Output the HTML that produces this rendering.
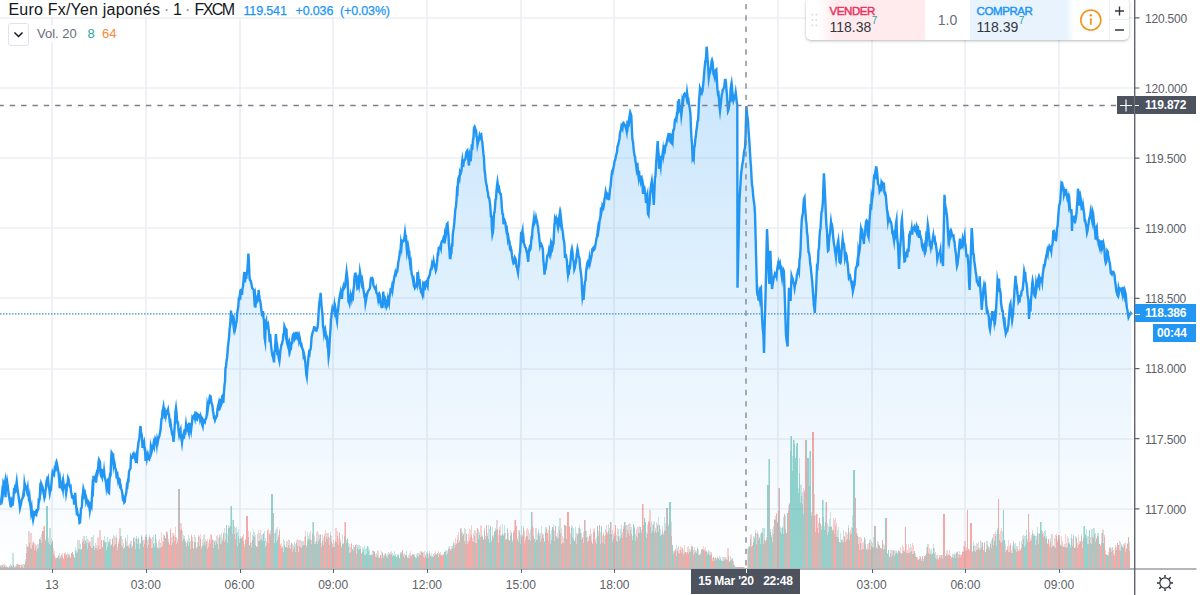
<!DOCTYPE html>
<html><head><meta charset="utf-8"><title>EURJPY</title>
<style>
html,body{margin:0;padding:0;background:#fff;}
body{width:1200px;height:595px;position:relative;overflow:hidden;font-family:"Liberation Sans",sans-serif;}
.pl{position:absolute;left:1145px;width:50px;height:16px;line-height:16px;font-size:12px;color:#5d6067;letter-spacing:-0.2px;}
.tl{position:absolute;top:577px;width:60px;text-align:center;height:16px;line-height:16px;font-size:12px;color:#5d6067;}
.leg1{position:absolute;left:8.5px;top:0px;height:20px;line-height:20px;font-size:16px;color:#131722;white-space:nowrap;letter-spacing:0.2px;}
.lg{position:absolute;top:0px;height:20px;line-height:20px;white-space:nowrap;}
.leg1 .dot{color:#8a8e99;padding:0 5px;}
.leg1 .v{font-size:12.5px;color:#2196f3;margin-left:9px;}
.leg2{position:absolute;left:37px;top:25px;height:18px;line-height:18px;font-size:13px;color:#6a6d78;white-space:nowrap;}
.btn{position:absolute;left:8px;top:23px;width:19px;height:21px;border:1px solid #e0e3eb;border-radius:3px;background:#fff;box-sizing:content-box;}
.xl{position:absolute;background:#4c525e;color:#fff;font-weight:bold;font-size:12px;letter-spacing:-0.2px;}
.panel{position:absolute;left:806px;top:-2px;width:323px;height:42px;background:#fff;border-radius:5px;box-shadow:0 1px 3px rgba(0,0,0,0.28);overflow:hidden;}
</style></head><body>
<svg width="1200" height="595" viewBox="0 0 1200 595" style="position:absolute;left:0;top:0">
<defs><linearGradient id="ag" x1="0" y1="40" x2="0" y2="568" gradientUnits="userSpaceOnUse"><stop offset="0" stop-color="#2196f3" stop-opacity="0.26"/><stop offset="1" stop-color="#2196f3" stop-opacity="0.0"/></linearGradient></defs>
<path d="M52,0V568M146,0V568M240,0V568M333,0V568M427,0V568M521,0V568M614,0V568M778,0V568M872,0V568M965,0V568M1059,0V568M0,18H1134M0,88H1134M0,158H1134M0,228H1134M0,298H1134M0,369H1134M0,439H1134M0,509H1134" stroke="#edeff3" stroke-width="1.7" fill="none"/>
<path d="M0.0,505.0 L0.5,504.0 L1.0,500.9 L1.5,498.6 L2.0,493.8 L2.5,497.2 L3.0,493.7 L3.5,482.5 L4.0,483.6 L4.5,485.6 L5.0,482.7 L5.5,497.1 L6.0,485.4 L6.5,484.1 L7.0,481.0 L7.5,484.3 L8.0,488.0 L8.5,493.3 L9.0,496.2 L9.5,499.3 L10.0,502.5 L10.5,501.2 L11.0,507.4 L11.5,501.1 L12.0,506.0 L12.5,500.9 L13.0,501.9 L13.6,495.8 L14.1,487.9 L14.6,493.6 L15.1,488.1 L15.7,489.3 L16.2,485.4 L16.7,481.7 L17.2,486.6 L17.8,490.8 L18.4,494.9 L18.9,499.0 L19.4,502.7 L20.0,508.0 L20.5,505.7 L21.0,504.2 L21.5,500.8 L22.0,498.9 L22.5,498.5 L23.0,496.1 L23.5,492.9 L24.0,493.7 L24.5,484.0 L25.0,487.2 L25.5,486.0 L26.0,487.6 L26.5,488.9 L27.0,491.2 L27.6,488.1 L28.1,496.0 L28.6,491.9 L29.1,501.5 L29.6,498.0 L30.1,504.0 L30.6,506.0 L31.1,511.5 L31.6,508.5 L32.1,514.6 L32.6,516.4 L33.1,519.7 L33.6,517.0 L34.1,512.7 L34.6,513.2 L35.1,512.4 L35.7,514.6 L36.2,515.0 L36.7,510.9 L37.2,511.3 L37.7,510.0 L38.2,509.3 L38.7,500.4 L39.2,500.9 L39.7,498.8 L40.2,488.3 L40.7,489.8 L41.2,483.7 L41.7,485.0 L42.2,489.0 L42.8,488.3 L43.3,491.8 L43.9,494.9 L44.4,498.0 L44.9,496.2 L45.4,490.6 L46.0,488.1 L46.5,481.1 L47.0,479.5 L47.6,481.6 L48.1,479.6 L48.7,486.3 L49.2,488.0 L49.8,493.0 L50.3,490.3 L50.9,490.1 L51.4,484.5 L52.0,476.7 L52.5,473.0 L53.0,474.6 L53.5,474.1 L54.0,474.8 L54.5,470.0 L55.0,465.6 L55.5,471.5 L56.0,463.0 L56.5,461.7 L57.1,463.9 L57.6,467.6 L58.1,469.9 L58.7,474.9 L59.2,479.5 L59.7,488.3 L60.3,482.0 L60.8,486.6 L61.4,486.7 L61.9,488.0 L62.4,484.3 L63.0,488.7 L63.5,482.9 L64.1,487.3 L64.6,487.6 L65.1,486.7 L65.6,488.7 L66.1,493.4 L66.6,490.1 L67.1,483.6 L67.6,483.1 L68.1,478.2 L68.6,479.5 L69.1,483.8 L69.6,486.0 L70.1,486.9 L70.6,486.4 L71.1,492.4 L71.6,494.0 L72.1,497.5 L72.6,498.0 L73.1,497.6 L73.6,496.9 L74.1,503.6 L74.7,503.6 L75.2,492.9 L75.7,501.3 L76.2,506.6 L76.7,512.0 L77.2,511.1 L77.8,515.1 L78.3,515.7 L78.9,515.4 L79.5,522.9 L80.0,522.6 L80.5,516.3 L81.0,508.7 L81.5,507.9 L81.9,506.6 L82.4,496.5 L82.9,494.0 L83.4,489.0 L83.9,491.0 L84.4,495.2 L85.0,493.6 L85.5,497.2 L86.0,501.0 L86.5,498.7 L87.0,500.7 L87.5,501.6 L88.0,503.9 L88.5,502.8 L89.0,505.6 L89.5,501.8 L90.0,509.0 L90.5,505.6 L91.0,504.2 L91.5,505.7 L92.0,496.2 L92.5,487.1 L93.0,489.2 L93.5,475.8 L94.0,479.5 L94.5,479.6 L95.0,478.7 L95.5,477.0 L96.0,482.6 L96.5,477.8 L97.0,472.7 L97.5,473.5 L98.0,471.0 L98.5,462.7 L99.0,459.7 L99.5,460.7 L100.0,461.9 L100.5,473.4 L101.0,475.4 L101.5,474.8 L102.1,476.8 L102.6,470.2 L103.1,470.5 L103.6,477.0 L104.1,471.7 L104.7,477.3 L105.2,479.1 L105.8,481.7 L106.3,486.2 L106.8,481.8 L107.4,480.8 L107.9,486.9 L108.5,492.5 L109.0,493.0 L109.5,481.1 L110.0,474.3 L110.6,474.6 L111.1,459.6 L111.6,452.6 L112.1,453.4 L112.6,457.5 L113.1,453.3 L113.7,464.4 L114.2,461.6 L114.7,463.9 L115.2,467.9 L115.7,469.0 L116.2,472.3 L116.7,478.5 L117.2,471.6 L117.7,478.1 L118.2,481.4 L118.7,479.5 L119.2,478.9 L119.7,479.5 L120.2,486.2 L120.7,485.7 L121.2,488.9 L121.7,490.1 L122.3,493.5 L122.8,498.2 L123.3,497.3 L123.8,499.1 L124.3,502.4 L124.8,501.8 L125.3,496.4 L125.9,494.6 L126.4,491.8 L126.9,485.4 L127.4,486.1 L128.0,480.2 L128.5,480.5 L129.0,471.5 L129.5,470.4 L130.0,468.8 L130.5,468.3 L131.0,457.4 L131.5,458.5 L132.0,457.9 L132.5,457.9 L133.0,455.0 L133.5,455.6 L134.0,453.9 L134.5,455.1 L135.0,457.6 L135.5,456.2 L136.0,463.0 L136.5,457.7 L137.0,459.0 L137.5,450.1 L138.0,446.8 L138.5,441.9 L139.0,440.7 L139.5,437.2 L140.0,430.0 L140.5,426.0 L141.0,432.7 L141.5,433.5 L142.0,437.9 L142.5,447.9 L143.0,443.6 L143.5,443.4 L144.0,442.0 L144.5,448.8 L145.1,450.8 L145.6,461.0 L146.1,455.2 L146.7,458.6 L147.2,454.9 L147.7,453.5 L148.2,455.7 L148.8,458.9 L149.3,459.4 L149.8,457.3 L150.4,456.5 L150.9,445.9 L151.5,448.0 L152.0,450.5 L152.5,448.7 L153.1,446.8 L153.6,443.5 L154.2,446.2 L154.7,442.0 L155.2,439.2 L155.8,440.9 L156.3,440.3 L156.8,444.3 L157.3,439.2 L157.9,441.4 L158.4,438.6 L158.9,437.6 L159.5,435.5 L160.0,432.5 L160.5,430.5 L161.0,424.3 L161.5,418.8 L162.0,418.0 L162.5,410.7 L163.0,409.7 L163.5,406.9 L164.0,411.0 L164.5,407.5 L165.0,418.6 L165.5,409.8 L166.0,415.1 L166.5,412.7 L167.0,412.2 L167.5,411.0 L168.0,409.6 L168.5,414.0 L169.0,414.3 L169.5,419.9 L170.0,423.6 L170.5,422.5 L171.0,426.8 L171.5,430.3 L172.0,433.5 L172.5,433.1 L173.0,436.7 L173.5,442.0 L174.0,436.9 L174.5,428.6 L175.0,421.0 L175.5,411.5 L176.0,408.0 L176.5,412.3 L177.0,419.9 L177.5,423.0 L178.0,422.9 L178.5,430.2 L179.0,433.8 L179.5,430.6 L180.0,431.1 L180.5,429.7 L181.0,438.1 L181.5,438.8 L182.0,442.6 L182.6,437.4 L183.1,435.6 L183.6,438.0 L184.1,437.6 L184.6,429.1 L185.1,434.8 L185.6,429.8 L186.1,424.5 L186.7,428.4 L187.2,426.7 L187.8,425.7 L188.3,430.7 L188.8,432.7 L189.4,424.0 L189.9,424.2 L190.5,428.6 L191.0,431.0 L191.5,426.1 L191.9,423.9 L192.4,417.7 L192.9,418.5 L193.4,418.3 L193.9,416.0 L194.4,416.4 L194.9,418.3 L195.4,412.7 L196.0,412.8 L196.5,419.2 L197.0,419.6 L197.5,416.6 L198.0,414.4 L198.5,414.7 L199.0,415.0 L199.5,416.0 L200.0,419.0 L200.6,416.1 L201.1,417.8 L201.6,418.5 L202.1,424.2 L202.7,426.1 L203.2,420.5 L203.7,421.7 L204.2,421.7 L204.8,422.4 L205.3,419.5 L205.8,419.0 L206.3,418.0 L206.9,413.6 L207.4,405.7 L207.9,408.5 L208.4,404.7 L208.9,403.2 L209.5,398.6 L210.0,396.0 L210.5,396.3 L211.0,399.0 L211.5,403.3 L212.0,404.2 L212.5,406.3 L213.0,411.2 L213.5,413.5 L214.0,417.8 L214.5,417.8 L215.0,420.0 L215.5,418.4 L216.0,418.0 L216.5,415.9 L217.0,415.8 L217.5,409.0 L218.1,406.3 L218.6,404.1 L219.1,410.5 L219.6,406.0 L220.1,403.8 L220.6,398.8 L221.1,404.8 L221.7,403.2 L222.2,396.1 L222.8,395.3 L223.3,403.0 L223.9,393.3 L224.5,385.0 L225.0,381.7 L225.5,367.5 L226.0,367.2 L226.5,361.2 L227.0,358.0 L227.5,353.5 L228.0,346.1 L228.6,341.0 L229.1,337.0 L229.6,329.0 L230.1,325.7 L230.5,319.3 L231.0,310.5 L231.5,317.9 L232.0,315.1 L232.6,316.8 L233.1,322.0 L233.6,326.0 L234.1,322.0 L234.6,326.5 L235.0,329.5 L235.5,327.4 L236.1,323.1 L236.6,321.7 L237.1,313.7 L237.7,310.0 L238.3,306.1 L238.8,298.7 L239.4,298.9 L240.0,294.0 L240.5,295.3 L241.0,290.1 L241.5,290.0 L242.0,295.0 L242.5,288.4 L243.0,286.2 L243.4,282.0 L243.9,275.4 L244.4,272.0 L244.9,282.3 L245.4,277.4 L245.8,277.7 L246.3,277.7 L246.8,273.3 L247.4,269.4 L247.9,262.0 L248.4,253.5 L248.9,260.8 L249.5,277.3 L250.0,280.0 L250.5,280.3 L251.1,282.4 L251.6,284.7 L252.2,287.8 L252.7,288.8 L253.3,289.3 L253.8,290.0 L254.3,298.8 L254.9,296.0 L255.4,307.7 L256.0,299.1 L256.5,298.0 L257.0,301.8 L257.6,300.8 L258.1,298.8 L258.6,290.0 L259.1,294.7 L259.6,298.2 L260.0,300.6 L260.5,302.8 L261.0,307.0 L261.5,311.1 L262.0,315.1 L262.5,315.8 L263.0,311.2 L263.5,317.7 L264.0,320.7 L264.6,338.0 L265.1,340.9 L265.7,322.3 L266.2,320.7 L266.7,328.7 L267.2,322.1 L267.6,325.6 L268.1,324.5 L268.6,328.8 L269.1,333.7 L269.7,342.2 L270.2,334.2 L270.8,341.9 L271.3,347.6 L271.8,351.7 L272.4,355.2 L272.9,356.9 L273.5,359.0 L274.0,362.4 L274.5,351.3 L274.9,351.0 L275.4,342.6 L275.9,334.0 L276.4,341.5 L276.9,343.6 L277.4,355.1 L277.9,351.3 L278.4,355.4 L278.9,358.8 L279.4,361.0 L279.9,356.6 L280.4,350.3 L280.9,347.9 L281.4,344.7 L281.9,344.2 L282.4,341.7 L282.9,339.7 L283.4,334.0 L283.9,333.5 L284.4,326.3 L285.0,328.0 L285.5,332.3 L286.0,329.0 L286.5,329.6 L287.0,342.7 L287.5,344.4 L288.0,346.2 L288.5,344.1 L289.0,348.5 L289.5,345.2 L290.0,350.0 L290.5,347.3 L291.0,347.8 L291.5,343.0 L292.1,343.0 L292.6,336.8 L293.1,334.8 L293.6,334.0 L294.2,335.0 L294.7,339.2 L295.2,338.2 L295.8,331.8 L296.3,337.1 L296.9,338.0 L297.4,335.4 L297.9,334.0 L298.4,335.2 L298.9,339.3 L299.4,336.4 L299.9,338.6 L300.4,342.9 L300.9,345.0 L301.4,344.4 L302.0,347.1 L302.5,349.1 L303.1,350.2 L303.6,355.7 L304.1,354.5 L304.7,357.5 L305.2,361.3 L305.8,367.9 L306.3,374.5 L306.8,376.9 L307.4,367.5 L307.9,364.4 L308.5,356.4 L309.0,353.0 L309.5,354.0 L310.0,350.1 L310.6,349.3 L311.1,344.4 L311.6,337.0 L312.1,334.9 L312.6,332.3 L313.0,331.5 L313.5,330.2 L314.0,327.4 L314.5,327.5 L315.0,327.7 L315.5,329.9 L316.0,330.4 L316.5,330.6 L317.0,328.8 L317.5,327.9 L318.1,321.4 L318.6,312.8 L319.2,304.1 L319.7,300.5 L320.1,301.2 L320.6,292.9 L321.0,298.0 L321.5,305.5 L322.0,310.6 L322.5,314.3 L323.0,326.0 L323.5,328.5 L324.0,333.1 L324.5,330.1 L325.0,328.8 L325.5,331.8 L326.0,336.6 L326.5,335.7 L327.1,337.3 L327.6,346.7 L328.1,348.7 L328.6,357.0 L329.1,353.5 L329.6,342.2 L330.0,335.7 L330.5,328.8 L331.0,318.8 L331.4,317.3 L331.9,312.0 L332.4,308.6 L332.9,310.4 L333.4,311.0 L333.9,310.7 L334.4,306.1 L334.9,310.8 L335.4,308.2 L335.9,311.0 L336.4,317.2 L337.0,320.7 L337.5,313.6 L338.0,310.7 L338.5,305.5 L339.0,300.6 L339.5,297.7 L340.0,295.0 L340.5,292.6 L341.0,297.2 L341.5,297.9 L342.0,297.9 L342.5,290.9 L343.0,288.2 L343.5,286.3 L344.0,288.4 L344.5,287.5 L345.0,286.9 L345.6,281.0 L346.1,276.7 L346.6,272.0 L347.1,276.1 L347.6,280.3 L348.0,289.1 L348.5,301.7 L349.0,302.0 L349.5,303.7 L350.0,300.0 L350.5,296.8 L351.0,301.5 L351.5,293.2 L352.0,297.8 L352.5,294.9 L353.0,296.3 L353.5,289.9 L354.0,285.9 L354.5,277.1 L355.0,273.8 L355.5,273.6 L356.0,277.3 L356.4,277.1 L356.9,284.1 L357.4,288.4 L357.9,287.8 L358.4,281.7 L359.0,285.0 L359.5,279.9 L360.0,272.0 L360.6,275.6 L361.1,276.9 L361.7,282.4 L362.2,280.3 L362.8,284.4 L363.3,289.1 L363.9,292.2 L364.4,296.0 L365.0,295.4 L365.5,303.0 L366.0,300.3 L366.5,296.9 L367.0,294.6 L367.5,292.6 L368.0,291.0 L368.6,290.7 L369.1,289.5 L369.7,288.9 L370.2,286.1 L370.8,279.0 L371.3,278.2 L371.8,278.5 L372.3,278.1 L372.9,279.5 L373.4,284.8 L373.9,286.3 L374.4,287.2 L374.9,288.4 L375.4,289.3 L375.9,288.1 L376.4,292.8 L376.9,293.2 L377.4,294.1 L378.0,298.1 L378.5,294.1 L379.0,293.6 L379.5,299.0 L380.0,297.8 L380.5,302.3 L381.1,305.4 L381.6,307.0 L382.1,306.9 L382.7,303.5 L383.2,291.7 L383.8,299.4 L384.3,296.5 L384.8,297.4 L385.4,304.4 L385.9,303.4 L386.5,307.2 L387.0,306.0 L387.5,302.1 L388.0,298.3 L388.5,300.4 L389.0,302.8 L389.5,296.9 L390.0,295.3 L390.5,290.4 L391.0,291.0 L391.5,289.5 L392.0,286.7 L392.5,289.7 L393.0,285.6 L393.5,282.8 L394.0,279.2 L394.5,275.9 L395.0,275.0 L395.5,272.2 L396.1,273.9 L396.6,272.2 L397.2,271.5 L397.7,268.0 L398.3,262.1 L398.9,259.2 L399.4,256.0 L400.0,251.0 L400.5,250.7 L401.0,243.6 L401.5,246.8 L402.0,241.0 L402.5,241.5 L403.0,241.0 L403.5,241.3 L404.0,240.7 L404.5,236.9 L405.0,232.7 L405.5,237.0 L406.0,236.7 L406.5,245.6 L406.9,250.4 L407.4,247.0 L407.9,244.9 L408.4,247.8 L408.9,255.6 L409.4,254.6 L409.9,261.9 L410.3,265.0 L410.8,263.1 L411.3,269.9 L411.8,274.7 L412.3,275.8 L412.9,279.2 L413.4,282.4 L413.9,280.4 L414.5,284.6 L415.0,288.0 L415.5,287.3 L416.0,286.7 L416.5,284.4 L417.0,283.9 L417.5,272.1 L418.0,281.1 L418.5,278.0 L419.1,284.5 L419.6,279.1 L420.1,288.3 L420.7,289.6 L421.2,292.6 L421.8,293.0 L422.3,294.6 L422.8,288.0 L423.4,290.8 L423.9,281.5 L424.4,287.7 L424.9,288.2 L425.4,282.4 L426.0,281.8 L426.5,285.2 L427.0,284.8 L427.6,286.4 L428.1,278.4 L428.6,278.2 L429.2,276.2 L429.8,274.8 L430.3,271.0 L430.9,269.0 L431.4,268.1 L432.0,264.3 L432.5,266.2 L433.1,264.1 L433.6,261.0 L434.2,264.5 L434.7,265.3 L435.3,268.0 L435.8,270.6 L436.3,269.0 L436.8,263.2 L437.2,261.1 L437.7,254.2 L438.2,254.3 L438.7,247.8 L439.2,247.7 L439.8,248.0 L440.4,246.2 L440.9,248.1 L441.4,242.7 L442.0,241.0 L442.5,240.9 L443.0,239.8 L443.5,238.1 L443.9,238.9 L444.4,243.3 L444.9,235.4 L445.4,237.7 L445.9,234.6 L446.5,226.6 L447.0,224.0 L447.5,223.4 L448.0,229.5 L448.5,235.3 L448.9,244.4 L449.4,250.0 L449.9,257.8 L450.4,258.0 L450.9,254.2 L451.4,253.0 L451.9,243.1 L452.3,246.4 L452.8,234.3 L453.3,230.9 L453.8,227.6 L454.3,222.9 L454.9,214.8 L455.4,208.9 L455.9,207.3 L456.5,200.0 L457.0,190.7 L457.5,191.8 L458.0,181.6 L458.5,178.0 L459.0,176.7 L459.5,178.4 L460.0,172.6 L460.5,173.9 L461.0,172.5 L461.5,170.4 L462.0,163.6 L462.4,160.2 L462.9,163.9 L463.4,164.6 L463.9,160.4 L464.4,160.5 L464.9,159.9 L465.5,158.5 L466.0,154.1 L466.5,152.0 L467.0,151.2 L467.5,155.1 L468.0,157.0 L468.5,161.9 L469.0,165.5 L469.6,153.4 L470.1,154.9 L470.6,161.5 L471.2,154.8 L471.8,144.4 L472.3,150.0 L472.9,140.4 L473.5,137.6 L474.0,128.0 L474.6,126.8 L475.1,128.1 L475.6,131.2 L476.1,131.0 L476.5,136.3 L477.0,137.3 L477.5,144.4 L478.0,142.0 L478.5,141.2 L479.1,138.3 L479.6,135.2 L480.2,136.8 L480.7,135.0 L481.2,134.5 L481.8,139.2 L482.3,142.2 L482.9,148.1 L483.4,153.7 L484.0,158.4 L484.5,169.8 L485.1,173.7 L485.7,180.6 L486.2,183.3 L486.8,185.9 L487.4,191.0 L487.9,192.0 L488.4,197.1 L489.0,197.4 L489.5,199.9 L490.0,203.6 L490.5,209.6 L490.9,216.2 L491.4,216.4 L491.9,227.7 L492.4,234.4 L492.9,232.3 L493.4,227.2 L494.0,212.7 L494.5,212.6 L495.0,207.5 L495.5,199.5 L496.0,198.8 L496.5,190.8 L497.0,185.6 L497.5,182.0 L498.1,186.4 L498.6,189.6 L499.1,188.5 L499.7,191.8 L500.2,193.7 L500.8,194.0 L501.4,200.4 L501.9,208.2 L502.5,214.0 L503.0,214.2 L503.5,224.3 L504.0,218.9 L504.4,219.6 L504.9,221.9 L505.4,222.3 L505.9,227.6 L506.4,230.6 L506.9,229.4 L507.4,234.5 L508.0,239.9 L508.5,238.0 L509.0,241.0 L509.5,241.4 L510.0,248.9 L510.5,249.9 L511.0,248.7 L511.5,251.0 L512.0,255.7 L512.5,258.7 L513.0,261.5 L513.5,263.5 L514.0,263.0 L514.5,263.0 L515.0,257.9 L515.5,258.9 L516.0,261.3 L516.5,266.8 L517.0,266.8 L517.5,270.6 L518.0,273.0 L518.5,266.9 L519.0,264.7 L519.5,254.7 L520.0,252.0 L520.5,244.6 L521.0,234.0 L521.5,234.5 L522.0,232.9 L522.5,230.6 L522.9,238.6 L523.4,237.4 L523.9,242.7 L524.4,244.5 L525.0,247.0 L525.5,247.5 L526.0,248.0 L526.6,251.6 L527.2,253.3 L527.7,258.0 L528.2,261.8 L528.8,251.7 L529.4,248.7 L529.9,250.2 L530.5,249.2 L531.0,244.5 L531.5,237.5 L532.0,237.7 L532.4,231.0 L532.9,226.0 L533.4,222.6 L533.9,218.9 L534.4,223.4 L535.0,221.9 L535.5,220.6 L536.0,217.6 L536.5,220.1 L537.0,221.2 L537.5,224.5 L538.0,226.5 L538.5,232.1 L539.0,234.8 L539.5,241.0 L540.0,245.2 L540.5,242.9 L541.0,243.2 L541.4,244.8 L541.9,245.7 L542.4,247.2 L542.9,249.5 L543.4,260.6 L544.0,266.3 L544.5,274.7 L545.0,270.4 L545.5,269.6 L546.0,266.4 L546.4,262.9 L546.9,259.0 L547.4,255.3 L547.9,254.5 L548.4,254.1 L548.9,250.9 L549.4,253.3 L549.9,250.5 L550.5,246.3 L551.0,251.7 L551.5,248.8 L552.0,245.2 L552.5,247.3 L553.0,244.5 L553.5,243.9 L554.0,232.5 L554.5,224.8 L555.0,219.0 L555.5,220.6 L556.0,219.1 L556.5,223.5 L557.0,217.7 L557.5,225.2 L558.0,227.6 L558.5,224.2 L559.1,218.2 L559.6,215.0 L560.2,220.5 L560.7,216.0 L561.2,220.5 L561.8,226.4 L562.4,229.7 L562.9,232.8 L563.5,239.4 L564.0,241.0 L564.5,245.0 L565.0,258.0 L565.4,254.7 L565.9,254.9 L566.4,258.0 L566.9,260.2 L567.5,270.1 L568.0,274.7 L568.5,271.6 L569.0,272.2 L569.5,266.9 L569.9,267.1 L570.4,262.6 L570.9,256.2 L571.4,251.0 L571.9,248.8 L572.4,251.5 L572.9,257.7 L573.3,260.0 L573.8,261.8 L574.3,269.4 L574.8,268.0 L575.3,264.3 L575.9,262.3 L576.4,257.6 L576.9,253.1 L577.5,248.8 L578.0,251.0 L578.5,256.0 L579.0,256.9 L579.5,258.7 L580.0,266.2 L580.5,270.3 L581.0,273.7 L581.5,278.0 L582.0,288.7 L582.5,296.7 L583.0,293.8 L583.5,300.0 L584.0,294.0 L584.5,286.7 L585.0,281.5 L585.6,280.3 L586.1,271.1 L586.6,268.0 L587.1,264.7 L587.6,265.7 L588.1,262.4 L588.5,263.2 L589.0,264.2 L589.5,259.2 L590.0,263.0 L590.5,260.6 L591.1,257.8 L591.6,255.6 L592.2,249.4 L592.8,248.4 L593.3,247.8 L593.8,250.1 L594.4,249.5 L595.0,247.2 L595.5,244.6 L596.0,241.4 L596.6,237.7 L597.1,237.1 L597.6,232.0 L598.1,228.2 L598.5,230.2 L599.0,226.7 L599.5,221.6 L600.0,219.0 L600.5,216.1 L601.0,207.2 L601.5,211.6 L601.9,209.4 L602.4,205.4 L602.9,206.4 L603.4,207.5 L604.0,204.1 L604.5,198.8 L605.1,196.5 L605.7,192.0 L606.2,194.3 L606.8,196.7 L607.4,195.3 L607.9,198.6 L608.5,199.0 L609.0,199.0 L609.5,195.1 L610.0,188.7 L610.5,187.3 L611.0,180.9 L611.5,176.1 L612.0,172.0 L612.5,172.5 L613.0,169.9 L613.5,167.5 L614.0,165.5 L614.5,161.1 L615.0,160.4 L615.5,158.3 L616.0,155.7 L616.5,153.7 L617.0,152.1 L617.5,146.3 L618.0,145.7 L618.5,143.6 L619.0,140.9 L619.5,138.7 L620.0,132.9 L620.5,130.8 L621.0,130.2 L621.5,126.0 L622.0,126.8 L622.5,128.2 L623.0,123.4 L623.5,122.9 L624.1,124.5 L624.6,124.6 L625.1,125.3 L625.6,127.3 L626.2,128.9 L626.7,131.5 L627.2,125.5 L627.7,127.1 L628.2,123.1 L628.8,123.9 L629.3,118.1 L629.8,114.8 L630.3,117.3 L630.8,114.0 L631.3,115.6 L631.9,129.3 L632.4,139.3 L633.0,141.6 L633.5,147.6 L634.0,152.1 L634.5,155.8 L635.0,156.4 L635.5,161.8 L636.0,163.8 L636.5,168.1 L637.0,165.1 L637.5,164.6 L638.0,172.4 L638.5,176.2 L639.0,170.5 L639.5,177.8 L640.0,178.0 L640.5,180.6 L641.0,176.8 L641.5,176.7 L642.0,183.6 L642.5,183.7 L643.0,194.0 L643.5,187.1 L644.0,189.9 L644.5,189.0 L645.0,192.5 L645.5,195.1 L646.0,203.0 L646.6,197.8 L647.3,195.0 L647.9,213.7 L648.5,215.0 L649.0,206.7 L649.5,204.4 L650.0,196.0 L650.6,189.4 L651.2,184.4 L651.8,181.0 L652.3,185.5 L652.8,190.6 L653.3,197.6 L653.8,205.0 L654.3,194.2 L654.9,178.7 L655.5,175.5 L656.0,166.0 L656.6,156.6 L657.1,149.1 L657.7,141.0 L658.2,150.0 L658.7,154.9 L659.1,168.8 L659.6,165.0 L660.1,162.4 L660.6,165.8 L661.0,159.9 L661.5,157.0 L662.0,157.0 L662.5,154.7 L663.0,151.0 L663.4,155.7 L663.9,152.7 L664.4,149.0 L664.9,150.1 L665.4,145.7 L666.0,145.5 L666.5,143.3 L667.0,141.0 L667.6,138.1 L668.1,136.1 L668.7,138.0 L669.2,134.2 L669.8,134.0 L670.4,134.5 L670.9,142.3 L671.5,143.0 L672.1,138.5 L672.6,140.7 L673.2,130.4 L673.8,130.0 L674.3,127.4 L674.9,120.1 L675.5,119.0 L676.0,118.0 L676.5,119.2 L677.0,112.7 L677.5,111.9 L678.0,101.0 L678.5,105.0 L679.0,99.0 L679.6,106.8 L680.1,109.6 L680.7,108.5 L681.3,115.3 L681.8,111.0 L682.4,100.8 L682.9,102.6 L683.5,97.8 L684.0,95.0 L684.5,95.2 L685.0,93.7 L685.5,94.2 L686.0,95.0 L686.5,97.4 L687.0,92.5 L687.5,96.4 L688.0,101.2 L688.5,100.5 L689.0,104.9 L689.5,106.8 L690.0,110.0 L690.5,115.1 L691.0,129.2 L691.6,140.2 L692.1,144.8 L692.6,158.4 L693.1,157.2 L693.7,159.0 L694.2,147.9 L694.8,145.6 L695.3,139.5 L695.8,136.3 L696.4,130.5 L696.9,127.8 L697.5,121.2 L698.0,120.7 L698.5,112.7 L699.0,101.3 L699.5,95.2 L700.0,88.4 L700.5,90.0 L701.0,91.9 L701.5,90.7 L702.0,92.5 L702.5,90.9 L703.1,85.3 L703.6,80.3 L704.2,72.8 L704.7,67.0 L705.2,61.6 L705.7,60.2 L706.1,56.7 L706.6,46.7 L707.1,51.4 L707.7,61.7 L708.2,66.9 L708.8,77.7 L709.3,74.4 L709.9,72.8 L710.4,70.5 L711.0,67.5 L711.5,61.5 L712.0,60.0 L712.5,61.8 L713.0,67.6 L713.5,74.4 L714.0,75.0 L714.6,77.2 L715.1,72.1 L715.7,70.2 L716.3,69.6 L716.9,79.4 L717.4,88.9 L718.0,93.8 L718.5,93.2 L719.0,99.8 L719.5,107.0 L720.0,111.0 L720.6,105.8 L721.1,100.9 L721.7,95.0 L722.2,92.8 L722.8,89.8 L723.3,89.1 L723.9,87.6 L724.4,85.4 L725.0,80.1 L725.5,80.0 L726.0,82.7 L726.5,90.7 L727.0,94.8 L727.5,104.9 L728.0,111.0 L728.5,109.7 L729.0,106.5 L729.5,102.0 L730.1,100.8 L730.6,88.8 L731.1,85.8 L731.6,83.0 L732.1,86.8 L732.5,97.8 L733.0,96.6 L733.5,100.5 L734.0,98.9 L734.6,97.0 L735.2,96.0 L735.7,92.5 L736.2,96.3 L736.8,102.3 L737.3,104.6 L737.5,287.7 L739.5,200.0 L741.0,175.0 L742.4,163.8 L742.9,161.5 L743.4,157.7 L744.0,152.2 L744.5,149.7 L745.0,147.6 L745.5,137.7 L745.9,121.9 L746.4,106.0 L746.9,111.6 L747.4,117.3 L748.0,120.6 L748.5,129.8 L749.0,137.0 L749.5,143.3 L750.0,152.3 L750.5,161.3 L751.0,166.5 L751.5,177.0 L752.0,184.6 L752.5,187.4 L753.0,193.6 L753.5,198.6 L754.0,202.0 L754.5,206.3 L755.0,213.8 L757.0,291.0 L757.5,295.0 L758.1,295.3 L758.6,300.6 L759.2,294.4 L759.7,297.8 L760.4,288.6 L761.0,287.7 L761.6,303.7 L762.1,318.2 L762.7,328.0 L763.4,334.8 L764.0,353.0 L764.5,331.4 L764.9,316.5 L765.4,301.0 L767.0,229.0 L767.5,239.4 L768.0,252.5 L768.4,266.2 L768.9,277.2 L769.4,284.0 L769.9,267.2 L770.4,250.8 L770.9,266.2 L771.5,274.8 L772.0,289.0 L772.6,284.8 L773.2,281.2 L773.8,277.6 L774.3,276.2 L774.9,274.0 L775.4,275.2 L775.9,275.1 L776.5,276.9 L777.0,271.0 L777.6,266.6 L778.1,264.0 L778.7,269.5 L779.2,263.8 L779.8,262.5 L780.3,265.8 L780.9,266.4 L781.5,274.1 L782.0,277.6 L782.5,272.3 L783.0,272.9 L783.4,269.9 L783.9,271.0 L786.0,335.0 L786.5,339.6 L787.1,343.2 L787.6,346.5 L788.1,325.5 L788.5,305.8 L789.0,287.7 L789.5,292.8 L790.1,295.2 L790.6,301.0 L791.1,286.0 L791.6,276.0 L792.1,277.8 L792.6,278.0 L793.1,281.3 L793.6,282.9 L794.1,284.3 L794.6,287.7 L795.1,284.0 L795.6,283.7 L796.0,281.2 L796.5,278.9 L797.0,274.0 L797.5,273.6 L798.0,270.4 L798.5,269.1 L799.0,271.1 L799.5,259.9 L800.0,257.5 L800.6,248.3 L801.1,233.2 L801.7,220.5 L802.3,215.8 L802.9,213.6 L803.4,205.3 L804.0,198.7 L804.5,197.6 L805.0,207.3 L805.5,213.0 L806.0,220.5 L806.5,223.9 L807.0,232.8 L807.5,235.5 L808.0,244.0 L808.6,252.4 L809.1,252.8 L809.7,257.2 L810.2,263.5 L810.8,267.5 L811.3,272.8 L811.9,278.4 L812.4,284.4 L812.9,291.4 L813.4,297.6 L813.8,305.0 L814.3,307.4 L814.8,313.0 L815.3,302.3 L815.9,293.4 L816.4,281.9 L817.0,266.8 L817.5,267.5 L818.0,260.5 L818.5,250.3 L819.0,247.6 L819.5,237.0 L820.0,230.6 L820.5,228.9 L821.0,219.3 L821.5,212.0 L822.0,211.2 L822.5,207.0 L823.0,199.6 L823.4,185.8 L823.9,173.4 L824.4,182.0 L824.9,192.5 L825.4,203.7 L825.9,215.5 L826.4,225.0 L827.0,230.9 L827.5,243.9 L828.0,250.8 L828.5,250.2 L829.0,240.8 L829.5,235.6 L830.0,233.6 L830.5,227.3 L831.0,222.0 L831.5,225.8 L832.0,225.3 L832.6,228.9 L833.1,236.3 L833.6,240.7 L834.1,245.1 L834.6,246.5 L835.0,251.0 L835.5,253.5 L836.0,257.5 L836.6,251.3 L837.1,248.4 L837.7,243.8 L838.3,240.7 L838.9,248.4 L839.4,261.9 L840.0,262.5 L840.5,255.2 L841.1,257.4 L841.6,250.9 L842.2,244.0 L842.7,239.0 L843.3,243.8 L843.9,243.9 L844.4,248.6 L845.0,257.5 L845.5,254.9 L846.1,254.0 L846.6,255.6 L847.2,261.8 L847.7,264.0 L848.2,270.4 L848.8,276.9 L849.3,275.6 L849.9,275.3 L850.4,277.6 L850.9,281.1 L851.4,282.3 L851.9,285.4 L852.4,284.2 L852.9,291.2 L853.4,289.0 L853.9,286.2 L854.4,285.3 L855.0,279.5 L855.5,270.4 L856.0,267.5 L856.5,267.1 L857.0,265.2 L857.5,261.0 L858.0,266.2 L858.5,251.0 L859.0,253.6 L859.5,250.8 L860.0,247.0 L860.5,235.6 L861.0,229.0 L861.5,231.2 L862.0,234.4 L862.5,232.7 L862.9,235.8 L863.4,240.1 L863.9,244.0 L864.4,236.6 L865.0,235.1 L865.5,226.7 L866.1,221.3 L866.6,220.5 L867.1,221.4 L867.6,229.1 L868.1,235.7 L868.6,237.3 L869.1,227.8 L869.6,219.1 L870.1,213.0 L870.6,203.7 L871.1,210.3 L871.6,198.2 L872.0,200.4 L872.5,196.1 L873.0,193.6 L873.5,183.7 L874.1,176.4 L874.6,176.8 L875.1,173.6 L875.5,174.7 L876.0,167.4 L876.5,167.5 L877.0,171.9 L877.5,176.0 L878.0,183.5 L878.5,184.7 L879.1,186.4 L879.6,191.3 L880.2,190.0 L880.7,190.0 L881.3,184.0 L881.9,186.4 L882.4,182.7 L883.0,183.5 L883.5,185.5 L884.0,184.9 L884.4,192.7 L884.9,194.1 L885.4,193.6 L885.9,196.1 L886.4,203.3 L887.0,209.8 L887.5,213.9 L888.0,220.5 L888.5,217.3 L889.0,220.0 L889.5,220.8 L889.9,219.9 L890.4,221.5 L890.9,221.9 L891.4,224.0 L891.9,227.7 L892.4,233.3 L893.0,234.4 L893.5,237.5 L894.0,240.7 L894.5,234.3 L895.0,235.5 L895.5,229.0 L896.0,223.5 L896.5,220.5 L897.0,233.2 L897.5,241.3 L898.0,244.4 L898.5,256.8 L899.0,269.0 L899.5,258.7 L900.0,248.2 L900.5,243.6 L901.0,236.1 L901.5,222.0 L902.0,219.0 L902.5,229.0 L903.0,232.7 L903.5,242.1 L904.0,254.9 L904.5,261.4 L905.0,261.1 L905.5,255.6 L906.0,253.3 L906.6,252.3 L907.1,257.3 L907.6,250.8 L908.1,251.3 L908.6,251.0 L909.1,238.9 L909.6,240.3 L910.1,233.4 L910.6,234.0 L911.1,233.5 L911.7,229.1 L912.2,234.7 L912.8,228.5 L913.4,228.2 L913.9,228.1 L914.5,226.8 L915.0,229.6 L915.5,228.9 L916.0,230.9 L916.5,232.2 L917.0,226.9 L917.5,228.5 L918.0,228.0 L918.5,232.6 L919.0,237.9 L919.5,230.1 L920.0,234.9 L920.5,235.9 L921.0,238.7 L921.5,239.6 L922.0,246.0 L922.6,248.0 L923.1,246.3 L923.6,245.5 L924.1,248.8 L924.7,245.9 L925.2,252.3 L925.7,250.8 L926.2,237.9 L926.8,240.2 L927.3,232.6 L927.8,225.0 L928.3,228.5 L928.8,233.5 L929.3,238.1 L929.8,244.9 L930.3,244.7 L930.8,247.6 L931.3,244.5 L931.8,245.7 L932.3,242.2 L932.8,238.7 L933.3,235.7 L933.8,239.9 L934.3,240.5 L934.8,239.3 L935.3,243.5 L935.8,243.5 L936.3,247.8 L936.8,251.6 L937.3,259.4 L937.8,257.2 L938.3,253.8 L938.8,253.6 L939.3,253.8 L939.8,253.4 L940.4,250.3 L940.9,259.2 L941.4,258.0 L941.9,261.1 L942.5,262.2 L943.0,266.0 L944.5,194.8 L945.0,202.9 L945.5,207.3 L946.0,208.6 L946.5,213.3 L947.0,216.0 L947.5,223.5 L947.9,231.2 L948.4,238.7 L948.9,235.4 L949.4,239.6 L950.0,234.7 L950.5,232.6 L951.0,234.8 L951.5,232.6 L952.0,234.8 L952.5,235.8 L953.0,236.1 L953.5,235.7 L954.0,240.8 L954.5,241.7 L955.0,247.2 L955.5,251.2 L956.0,253.8 L956.5,261.4 L957.0,266.2 L957.5,264.4 L958.0,259.5 L958.5,256.7 L959.0,249.1 L959.5,243.3 L960.0,238.7 L960.5,245.9 L961.0,247.6 L961.5,247.1 L962.1,244.3 L962.6,240.1 L963.1,243.3 L963.6,240.2 L964.1,240.2 L964.6,236.9 L965.0,244.8 L965.5,244.8 L966.0,250.8 L966.5,255.8 L967.0,255.6 L967.5,255.5 L968.0,260.0 L968.5,266.9 L969.1,282.9 L969.6,290.0 L971.7,228.0 L972.2,233.8 L972.7,244.0 L973.2,253.8 L973.7,254.0 L974.2,260.4 L974.7,263.9 L975.2,267.5 L975.7,272.0 L976.3,275.4 L976.9,281.7 L977.4,282.0 L978.0,284.0 L978.5,285.3 L979.1,284.8 L979.7,276.3 L980.2,287.0 L980.7,293.7 L981.2,299.4 L981.7,309.8 L982.3,302.0 L982.9,297.5 L983.4,289.2 L984.0,285.6 L984.6,289.0 L985.1,287.3 L985.7,296.0 L986.3,305.0 L986.8,311.0 L987.3,310.0 L987.9,312.4 L988.4,314.0 L988.9,318.7 L989.5,327.1 L990.0,329.5 L990.6,324.6 L991.1,320.0 L991.7,317.0 L992.3,311.0 L992.8,320.5 L993.3,311.5 L993.8,316.0 L994.3,321.0 L994.8,316.6 L995.3,319.0 L995.8,314.0 L996.4,303.1 L997.0,292.5 L997.5,281.0 L998.0,284.0 L998.5,284.5 L999.0,278.6 L999.5,290.3 L1000.0,290.0 L1000.6,293.5 L1001.1,303.5 L1001.7,307.2 L1002.3,311.0 L1002.8,311.1 L1003.3,316.8 L1003.9,321.2 L1004.4,317.4 L1004.8,324.8 L1005.3,329.5 L1005.8,333.8 L1006.3,332.5 L1006.8,330.0 L1007.4,330.4 L1007.9,327.2 L1008.4,325.0 L1008.9,317.3 L1009.5,311.2 L1010.0,305.3 L1010.5,303.8 L1011.0,311.5 L1011.5,315.7 L1012.1,320.7 L1012.6,317.4 L1013.1,311.3 L1013.6,305.3 L1014.0,300.2 L1014.5,289.6 L1015.0,282.6 L1015.5,275.9 L1016.0,283.1 L1016.4,284.4 L1016.9,287.1 L1017.4,293.0 L1018.0,296.8 L1018.5,301.5 L1019.0,300.3 L1019.6,300.7 L1020.1,295.8 L1020.6,295.6 L1021.1,295.5 L1021.6,291.3 L1022.1,290.6 L1022.6,290.0 L1023.1,285.3 L1023.7,277.8 L1024.2,271.2 L1024.7,273.5 L1025.3,273.4 L1025.8,281.0 L1026.4,282.7 L1027.0,287.0 L1027.5,294.7 L1028.0,297.2 L1028.5,300.4 L1029.0,318.9 L1029.5,311.2 L1030.0,309.8 L1030.5,310.0 L1031.0,300.0 L1031.6,293.3 L1032.1,284.6 L1032.6,281.0 L1033.1,283.9 L1033.7,289.3 L1034.2,294.1 L1034.7,296.0 L1035.2,296.6 L1035.7,292.7 L1036.2,284.1 L1036.7,287.0 L1037.2,283.7 L1037.7,281.0 L1038.2,279.2 L1038.7,284.8 L1039.2,286.2 L1039.7,278.8 L1040.2,280.4 L1040.7,278.0 L1041.2,277.8 L1041.7,277.7 L1042.2,281.2 L1042.8,274.2 L1043.3,270.5 L1043.8,266.0 L1044.3,266.5 L1044.8,264.9 L1045.3,261.2 L1045.8,258.6 L1046.3,255.4 L1046.8,253.8 L1047.3,250.9 L1047.8,253.2 L1048.3,248.1 L1048.8,248.1 L1049.3,246.5 L1049.8,247.8 L1050.3,249.3 L1050.8,248.2 L1051.3,250.8 L1051.8,245.6 L1052.3,245.3 L1052.8,241.0 L1053.3,231.4 L1053.8,231.0 L1054.3,232.6 L1054.9,234.1 L1055.5,240.1 L1056.0,240.2 L1056.5,235.7 L1057.0,228.1 L1057.5,226.6 L1058.0,220.5 L1058.6,211.8 L1059.2,205.2 L1059.8,203.9 L1060.3,199.9 L1060.9,191.5 L1061.5,182.4 L1062.0,182.7 L1062.5,184.7 L1063.0,191.0 L1063.5,186.7 L1064.0,194.8 L1064.5,193.0 L1065.0,193.8 L1065.4,194.2 L1065.9,188.8 L1066.4,193.5 L1067.0,194.1 L1067.5,199.4 L1068.0,200.9 L1068.5,198.4 L1069.0,204.6 L1069.5,201.9 L1070.0,208.8 L1070.5,210.7 L1071.0,210.0 L1071.5,210.2 L1072.0,230.9 L1072.5,216.4 L1073.0,216.7 L1073.5,218.6 L1074.0,220.5 L1074.5,221.3 L1075.0,218.7 L1075.5,219.9 L1076.0,217.4 L1076.5,213.1 L1077.0,205.4 L1077.5,199.7 L1078.0,188.7 L1078.5,192.2 L1079.0,205.6 L1079.5,196.0 L1080.0,194.6 L1080.5,197.2 L1081.1,203.0 L1081.6,208.4 L1082.1,207.9 L1082.5,208.5 L1083.0,205.4 L1083.5,209.2 L1084.1,213.4 L1084.7,220.6 L1085.2,220.5 L1085.8,224.1 L1086.4,227.0 L1087.0,232.6 L1087.5,230.7 L1088.0,226.4 L1088.5,223.7 L1089.0,220.0 L1089.5,217.6 L1090.0,217.5 L1090.5,213.1 L1091.0,216.7 L1091.5,216.6 L1092.0,219.6 L1092.5,211.2 L1093.0,213.0 L1093.5,217.4 L1094.1,224.1 L1094.7,229.1 L1095.2,232.6 L1095.7,239.6 L1096.2,228.8 L1096.7,227.4 L1097.2,235.2 L1097.7,240.2 L1098.2,240.2 L1098.7,244.5 L1099.2,246.0 L1099.8,248.2 L1100.3,243.8 L1100.8,245.2 L1101.3,250.8 L1101.8,240.3 L1102.3,247.4 L1102.9,245.0 L1103.4,243.2 L1103.9,246.0 L1104.4,249.1 L1104.8,256.3 L1105.3,260.5 L1105.8,263.0 L1106.3,262.0 L1106.8,256.6 L1107.3,250.9 L1107.8,251.7 L1108.3,255.7 L1108.8,258.4 L1109.3,261.3 L1109.8,263.0 L1110.3,267.4 L1110.8,273.1 L1111.3,273.5 L1111.8,274.2 L1112.3,271.9 L1112.9,271.8 L1113.4,272.0 L1113.9,273.1 L1114.5,274.9 L1115.0,280.3 L1115.5,284.0 L1116.0,288.1 L1116.5,291.8 L1117.0,292.9 L1117.5,295.2 L1118.0,296.0 L1118.6,288.4 L1119.2,291.1 L1119.7,288.3 L1120.3,288.6 L1120.8,288.7 L1121.3,289.2 L1121.8,291.2 L1122.4,294.0 L1122.9,286.9 L1123.4,297.7 L1123.9,293.5 L1124.5,296.1 L1125.0,291.3 L1125.5,293.2 L1126.0,297.2 L1126.5,305.0 L1127.0,308.3 L1127.5,310.7 L1128.0,313.9 L1128.5,317.2 L1129.0,316.0 L1129.6,314.2 L1130.2,314.2 L1130.7,313.1 L1131.3,314.0 L1131.3,568 L0,568 Z" fill="url(#ag)" stroke="none"/>
<path d="M3,568v-1h1v1zM11,568v-2h1v2zM16,568v-2h1v2zM25,568v-6h1v6zM36,568v-17h1v17zM38,568v-20h1v20zM41,568v-25h1v25zM46,568v-33h1v33zM46,535v-29h1v29zM47,568v-36h1v36zM47,532v-26h1v26zM49,568v-24h1v24zM50,568v-23h1v23zM51,568v-25h1v25zM57,568v-10h1v10zM59,568v-9h1v9zM60,568v-10h1v10zM67,568v-10h1v10zM68,568v-13h1v13zM75,568v-17h1v17zM76,568v-15h1v15zM77,568v-16h1v16zM80,568v-18h1v18zM81,568v-19h1v19zM86,568v-25h1v25zM87,568v-19h1v19zM92,568v-20h1v20zM104,568v-26h1v26zM106,568v-18h1v18zM107,568v-21h1v21zM108,568v-25h1v25zM109,568v-26h1v26zM111,568v-23h1v23zM120,568v-32h1v32zM123,568v-19h1v19zM124,568v-20h1v20zM127,568v-22h1v22zM131,568v-20h1v20zM134,568v-26h1v26zM136,568v-30h1v30zM137,568v-24h1v24zM138,568v-29h1v29zM140,568v-24h1v24zM143,568v-21h1v21zM146,568v-31h1v31zM154,568v-21h1v21zM155,568v-33h1v33zM159,568v-20h1v20zM179,535v-46h1v46zM183,568v-29h1v29zM184,568v-29h1v29zM189,568v-26h1v26zM193,568v-19h1v19zM194,568v-26h1v26zM203,568v-23h1v23zM205,568v-23h1v23zM213,568v-20h1v20zM215,568v-23h1v23zM216,568v-26h1v26zM218,568v-19h1v19zM226,568v-24h1v24zM226,544v-19h1v19zM227,568v-25h1v25zM228,568v-40h1v40zM230,568v-42h1v42zM231,529v-23h1v23zM233,568v-31h1v31zM233,537v-17h1v17zM236,568v-35h1v35zM238,568v-32h1v32zM241,568v-30h1v30zM249,568v-23h1v23zM252,568v-28h1v28zM255,568v-23h1v23zM256,568v-21h1v21zM261,568v-29h1v29zM262,568v-27h1v27zM263,568v-34h1v34zM265,568v-21h1v21zM271,529v-35h1v35zM272,529v-35h1v35zM274,568v-25h1v25zM275,568v-35h1v35zM276,568v-26h1v26zM277,568v-28h1v28zM283,568v-16h1v16zM284,568v-23h1v23zM285,568v-21h1v21zM295,568v-16h1v16zM302,568v-22h1v22zM307,568v-27h1v27zM308,568v-29h1v29zM313,568v-22h1v22zM313,546v-24h1v24zM315,568v-24h1v24zM316,568v-27h1v27zM319,568v-29h1v29zM327,568v-29h1v29zM342,568v-24h1v24zM346,568v-25h1v25zM347,568v-29h1v29zM348,568v-21h1v21zM352,568v-19h1v19zM359,568v-19h1v19zM362,568v-16h1v16zM363,568v-18h1v18zM364,568v-13h1v13zM366,568v-14h1v14zM367,568v-22h1v22zM368,568v-17h1v17zM370,568v-13h1v13zM371,568v-13h1v13zM377,568v-13h1v13zM383,568v-10h1v10zM387,568v-10h1v10zM389,568v-14h1v14zM392,568v-12h1v12zM393,568v-12h1v12zM394,568v-12h1v12zM395,568v-13h1v13zM397,568v-12h1v12zM398,568v-13h1v13zM401,568v-15h1v15zM403,568v-12h1v12zM404,568v-10h1v10zM407,568v-10h1v10zM413,568v-13h1v13zM415,568v-10h1v10zM416,568v-10h1v10zM419,568v-13h1v13zM426,568v-10h1v10zM427,568v-14h1v14zM431,568v-11h1v11zM433,568v-11h1v11zM437,568v-15h1v15zM444,568v-16h1v16zM445,568v-16h1v16zM446,568v-13h1v13zM449,568v-19h1v19zM453,568v-24h1v24zM461,568v-35h1v35zM462,568v-32h1v32zM474,568v-32h1v32zM478,568v-29h1v29zM479,568v-33h1v33zM482,568v-31h1v31zM487,568v-32h1v32zM488,568v-29h1v29zM490,568v-27h1v27zM490,541v-15h1v15zM491,568v-26h1v26zM494,568v-36h1v36zM495,568v-38h1v38zM501,568v-32h1v32zM502,568v-34h1v34zM503,568v-32h1v32zM507,568v-39h1v39zM509,568v-27h1v27zM511,568v-35h1v35zM512,568v-26h1v26zM517,568v-28h1v28zM520,568v-24h1v24zM531,568v-27h1v27zM531,541v-29h1v29zM534,568v-29h1v29zM535,568v-26h1v26zM538,568v-36h1v36zM544,568v-26h1v26zM545,568v-36h1v36zM550,568v-24h1v24zM552,568v-26h1v26zM552,542v-15h1v15zM554,568v-27h1v27zM556,568v-31h1v31zM561,568v-24h1v24zM565,568v-42h1v42zM572,568v-31h1v31zM574,568v-27h1v27zM578,568v-34h1v34zM581,568v-28h1v28zM585,568v-37h1v37zM586,568v-31h1v31zM592,568v-24h1v24zM596,568v-24h1v24zM597,542v-16h1v16zM598,568v-32h1v32zM601,568v-26h1v26zM601,542v-16h1v16zM604,568v-24h1v24zM609,568v-34h1v34zM611,568v-34h1v34zM613,568v-29h1v29zM616,568v-27h1v27zM618,568v-32h1v32zM621,568v-34h1v34zM624,568v-25h1v25zM624,543v-21h1v21zM633,568v-29h1v29zM633,539v-15h1v15zM634,568v-40h1v40zM638,568v-35h1v35zM640,568v-25h1v25zM640,543v-16h1v16zM644,568v-50h1v50zM645,568v-30h1v30zM645,538v-16h1v16zM651,568v-35h1v35zM652,568v-37h1v37zM654,568v-35h1v35zM657,568v-42h1v42zM658,568v-36h1v36zM660,568v-32h1v32zM661,568v-33h1v33zM665,568v-38h1v38zM667,529v-21h1v21zM668,568v-42h1v42zM669,530v-28h1v28zM670,568v-31h1v31zM670,537v-35h1v35zM672,568v-23h1v23zM673,568v-14h1v14zM676,568v-12h1v12zM690,568v-16h1v16zM694,568v-15h1v15zM696,568v-15h1v15zM700,568v-13h1v13zM706,568v-16h1v16zM707,568v-13h1v13zM709,568v-13h1v13zM716,568v-8h1v8zM719,568v-8h1v8zM720,568v-9h1v9zM721,568v-7h1v7zM724,568v-8h1v8zM730,568v-7h1v7zM734,568v-2h1v2zM735,568v-1h1v1zM736,568v-1h1v1zM749,568v-21h1v21zM754,568v-29h1v29zM755,568v-35h1v35zM759,568v-30h1v30zM760,568v-24h1v24zM761,568v-35h1v35zM764,568v-28h1v28zM767,537v-52h1v52zM769,568v-30h1v30zM769,538v-79h1v79zM770,568v-36h1v36zM771,568v-31h1v31zM772,568v-26h1v26zM774,568v-48h1v48zM777,568v-45h1v45zM780,568v-36h1v36zM781,568v-34h1v34zM782,568v-40h1v40zM783,568v-34h1v34zM787,533v-20h1v20zM790,568v-117h1v117zM791,568v-84h1v84zM791,484v-48h1v48zM792,568v-97h1v97zM793,568v-85h1v85zM793,483v-43h1v43zM794,568v-124h1v124zM795,568v-71h1v71zM795,497v-39h1v39zM796,568v-122h1v122zM797,568v-71h1v71zM797,497v-54h1v54zM798,568v-75h1v75zM799,568v-95h1v95zM800,568v-65h1v65zM801,568v-72h1v72zM802,568v-64h1v64zM804,568v-76h1v76zM806,488v-48h1v48zM808,568v-53h1v53zM808,515v-57h1v57zM809,568v-82h1v82zM810,568v-73h1v73zM810,495v-44h1v44zM821,568v-38h1v38zM822,568v-34h1v34zM822,534v-34h1v34zM823,568v-51h1v51zM824,568v-38h1v38zM825,568v-46h1v46zM827,568v-33h1v33zM828,568v-36h1v36zM829,568v-41h1v41zM830,568v-41h1v41zM832,568v-37h1v37zM837,568v-31h1v31zM839,568v-26h1v26zM840,568v-25h1v25zM843,568v-26h1v26zM852,568v-40h1v40zM853,568v-48h1v48zM853,520v-50h1v50zM854,529v-59h1v59zM865,568v-24h1v24zM871,568v-22h1v22zM874,547v-21h1v21zM883,568v-18h1v18zM885,568v-29h1v29zM885,539v-21h1v21zM887,568v-14h1v14zM888,568v-18h1v18zM892,568v-13h1v13zM895,568v-14h1v14zM896,568v-15h1v15zM897,568v-14h1v14zM901,568v-14h1v14zM904,568v-16h1v16zM910,568v-16h1v16zM918,568v-8h1v8zM923,568v-7h1v7zM927,568v-21h1v21zM930,568v-14h1v14zM933,568v-20h1v20zM935,568v-10h1v10zM947,568v-12h1v12zM952,568v-11h1v11zM955,568v-10h1v10zM956,568v-15h1v15zM973,568v-22h1v22zM981,568v-21h1v21zM985,568v-16h1v16zM992,568v-29h1v29zM996,568v-22h1v22zM997,568v-38h1v38zM999,568v-28h1v28zM1003,568v-58h1v58zM1004,568v-28h1v28zM1012,568v-15h1v15zM1014,568v-20h1v20zM1024,568v-21h1v21zM1025,568v-23h1v23zM1026,568v-33h1v33zM1033,568v-32h1v32zM1034,568v-32h1v32zM1037,568v-35h1v35zM1039,568v-34h1v34zM1040,568v-27h1v27zM1040,541v-19h1v19zM1041,568v-38h1v38zM1046,568v-30h1v30zM1051,568v-20h1v20zM1068,568v-25h1v25zM1071,568v-30h1v30zM1075,568v-21h1v21zM1084,568v-24h1v24zM1084,544v-18h1v18zM1085,568v-33h1v33zM1086,568v-30h1v30zM1087,568v-24h1v24zM1089,568v-38h1v38zM1091,568v-24h1v24zM1095,568v-26h1v26zM1098,568v-31h1v31zM1102,568v-35h1v35zM1106,568v-13h1v13zM1107,568v-13h1v13zM1108,568v-12h1v12zM1110,568v-19h1v19zM1120,568v-17h1v17zM1122,568v-21h1v21z" fill="#26a69a" fill-opacity="0.5" shape-rendering="crispEdges"/>
<path d="M0,568v-2h1v2zM4,568v-2h1v2zM7,568v-1h1v1zM15,568v-1h1v1zM17,568v-4h1v4zM18,568v-3h1v3zM21,568v-3h1v3zM24,568v-3h1v3zM27,568v-21h1v21zM29,568v-25h1v25zM32,568v-23h1v23zM34,568v-18h1v18zM35,568v-21h1v21zM43,568v-37h1v37zM44,548v-22h1v22zM53,568v-14h1v14zM54,568v-12h1v12zM55,568v-9h1v9zM61,568v-13h1v13zM62,568v-11h1v11zM63,568v-9h1v9zM64,568v-14h1v14zM65,568v-13h1v13zM66,568v-13h1v13zM69,568v-12h1v12zM71,568v-15h1v15zM73,568v-13h1v13zM82,568v-26h1v26zM89,568v-25h1v25zM91,568v-20h1v20zM97,568v-18h1v18zM98,568v-22h1v22zM101,568v-28h1v28zM102,568v-21h1v21zM112,568v-29h1v29zM115,568v-24h1v24zM116,568v-30h1v30zM119,568v-29h1v29zM121,568v-23h1v23zM122,568v-21h1v21zM129,568v-20h1v20zM132,568v-22h1v22zM135,568v-19h1v19zM144,568v-24h1v24zM145,568v-31h1v31zM147,568v-20h1v20zM148,568v-23h1v23zM150,568v-29h1v29zM151,568v-20h1v20zM161,568v-21h1v21zM162,568v-22h1v22zM163,568v-26h1v26zM165,568v-30h1v30zM168,568v-26h1v26zM169,568v-23h1v23zM170,568v-38h1v38zM171,568v-23h1v23zM174,568v-27h1v27zM175,568v-31h1v31zM177,568v-26h1v26zM178,568v-33h1v33zM178,535v-46h1v46zM181,568v-39h1v39zM182,568v-27h1v27zM191,568v-32h1v32zM192,568v-27h1v27zM195,568v-26h1v26zM200,568v-29h1v29zM207,568v-19h1v19zM208,568v-21h1v21zM209,568v-28h1v28zM211,568v-33h1v33zM212,568v-28h1v28zM219,568v-31h1v31zM225,568v-28h1v28zM234,568v-34h1v34zM242,568v-31h1v31zM243,568v-27h1v27zM244,568v-21h1v21zM246,544v-28h1v28zM247,543v-27h1v27zM248,568v-31h1v31zM257,568v-21h1v21zM267,568v-37h1v37zM268,568v-25h1v25zM269,568v-34h1v34zM278,568v-31h1v31zM279,568v-37h1v37zM280,568v-22h1v22zM281,568v-20h1v20zM282,568v-20h1v20zM288,568v-23h1v23zM290,568v-19h1v19zM293,568v-19h1v19zM297,568v-22h1v22zM298,568v-16h1v16zM301,568v-20h1v20zM305,568v-32h1v32zM321,568v-21h1v21zM324,568v-32h1v32zM325,568v-26h1v26zM326,568v-31h1v31zM328,568v-31h1v31zM329,568v-23h1v23zM332,568v-21h1v21zM333,568v-21h1v21zM337,568v-32h1v32zM338,568v-23h1v23zM339,568v-35h1v35zM341,568v-20h1v20zM345,568v-18h1v18zM345,550v-28h1v28zM351,568v-24h1v24zM354,568v-21h1v21zM361,568v-14h1v14zM375,568v-11h1v11zM378,568v-10h1v10zM380,568v-13h1v13zM390,568v-13h1v13zM402,568v-17h1v17zM405,568v-13h1v13zM408,568v-10h1v10zM410,568v-12h1v12zM412,568v-13h1v13zM418,568v-11h1v11zM420,568v-13h1v13zM423,568v-11h1v11zM424,568v-10h1v10zM425,568v-12h1v12zM434,568v-13h1v13zM440,568v-13h1v13zM441,568v-13h1v13zM442,568v-12h1v12zM443,568v-13h1v13zM448,568v-19h1v19zM451,568v-19h1v19zM454,568v-20h1v20zM457,568v-28h1v28zM460,568v-39h1v39zM463,568v-34h1v34zM464,568v-27h1v27zM467,568v-24h1v24zM468,568v-26h1v26zM469,568v-27h1v27zM470,568v-31h1v31zM471,568v-33h1v33zM472,568v-27h1v27zM475,568v-25h1v25zM476,568v-25h1v25zM477,568v-40h1v40zM480,568v-31h1v31zM485,568v-29h1v29zM486,541v-16h1v16zM493,568v-30h1v30zM497,568v-39h1v39zM499,568v-38h1v38zM505,568v-28h1v28zM506,568v-29h1v29zM508,568v-28h1v28zM514,568v-38h1v38zM515,568v-28h1v28zM515,540v-20h1v20zM516,568v-42h1v42zM522,568v-32h1v32zM524,568v-25h1v25zM525,568v-28h1v28zM527,568v-32h1v32zM530,568v-27h1v27zM532,568v-42h1v42zM542,568v-33h1v33zM546,568v-39h1v39zM547,568v-35h1v35zM548,568v-27h1v27zM555,568v-24h1v24zM555,544v-18h1v18zM560,568v-35h1v35zM562,568v-25h1v25zM563,568v-25h1v25zM564,568v-25h1v25zM564,543v-18h1v18zM567,568v-31h1v31zM567,537v-25h1v25zM568,541v-29h1v29zM569,568v-41h1v41zM577,568v-33h1v33zM582,568v-30h1v30zM583,568v-25h1v25zM584,568v-30h1v30zM584,538v-18h1v18zM587,568v-26h1v26zM589,568v-32h1v32zM590,568v-32h1v32zM593,568v-35h1v35zM594,568v-36h1v36zM595,568v-26h1v26zM599,543v-18h1v18zM600,568v-24h1v24zM603,568v-34h1v34zM606,568v-36h1v36zM607,568v-34h1v34zM610,568v-30h1v30zM610,538v-16h1v16zM615,568v-25h1v25zM615,543v-18h1v18zM619,568v-28h1v28zM622,568v-30h1v30zM623,568v-39h1v39zM625,568v-42h1v42zM627,568v-38h1v38zM629,568v-32h1v32zM630,568v-38h1v38zM637,568v-30h1v30zM639,568v-35h1v35zM642,568v-28h1v28zM642,540v-36h1v36zM643,568v-43h1v43zM648,568v-46h1v46zM649,568v-46h1v46zM655,568v-37h1v37zM656,568v-35h1v35zM666,568v-37h1v37zM666,531v-23h1v23zM671,568v-32h1v32zM674,568v-16h1v16zM675,568v-18h1v18zM679,568v-14h1v14zM680,568v-18h1v18zM683,568v-13h1v13zM684,568v-15h1v15zM686,568v-14h1v14zM687,568v-16h1v16zM688,568v-14h1v14zM693,568v-13h1v13zM695,568v-16h1v16zM704,568v-17h1v17zM705,568v-17h1v17zM711,568v-14h1v14zM712,568v-7h1v7zM713,568v-11h1v11zM725,568v-9h1v9zM728,568v-12h1v12zM737,568v-1h1v1zM738,568v-1h1v1zM740,568v-1h1v1zM743,568v-1h1v1zM751,568v-21h1v21zM752,568v-22h1v22zM757,568v-34h1v34zM765,568v-26h1v26zM773,568v-34h1v34zM775,568v-48h1v48zM776,568v-54h1v54zM779,515v-27h1v27zM788,568v-57h1v57zM805,511v-71h1v71zM807,568v-66h1v66zM807,502v-44h1v44zM812,568v-65h1v65zM812,503v-71h1v71zM813,484v-52h1v52zM815,568v-36h1v36zM816,535v-21h1v21zM817,568v-40h1v40zM819,536v-18h1v18zM820,568v-44h1v44zM826,533v-31h1v31zM833,568v-38h1v38zM834,568v-34h1v34zM835,568v-42h1v42zM842,568v-26h1v26zM845,568v-26h1v26zM846,568v-28h1v28zM850,568v-34h1v34zM851,568v-34h1v34zM855,568v-70h1v70zM858,568v-24h1v24zM859,568v-18h1v18zM862,568v-19h1v19zM863,568v-19h1v19zM868,568v-19h1v19zM870,568v-18h1v18zM875,541v-15h1v15zM881,568v-19h1v19zM882,568v-28h1v28zM886,549v-31h1v31zM889,568v-10h1v10zM894,568v-12h1v12zM900,568v-15h1v15zM902,568v-15h1v15zM905,568v-41h1v41zM907,568v-15h1v15zM909,568v-15h1v15zM911,568v-17h1v17zM912,568v-14h1v14zM916,568v-11h1v11zM917,568v-8h1v8zM919,568v-9h1v9zM922,568v-12h1v12zM926,568v-15h1v15zM928,568v-15h1v15zM936,568v-9h1v9zM938,568v-8h1v8zM939,568v-11h1v11zM943,568v-11h1v11zM943,557v-43h1v43zM944,555v-41h1v41zM945,568v-12h1v12zM946,568v-14h1v14zM949,568v-13h1v13zM950,568v-12h1v12zM951,568v-10h1v10zM957,568v-16h1v16zM958,568v-10h1v10zM960,568v-11h1v11zM961,568v-13h1v13zM962,568v-16h1v16zM963,568v-16h1v16zM965,568v-17h1v17zM966,568v-18h1v18zM967,568v-58h1v58zM968,568v-19h1v19zM969,568v-17h1v17zM970,544v-21h1v21zM971,568v-15h1v15zM971,553v-30h1v30zM972,568v-16h1v16zM976,568v-18h1v18zM982,568v-25h1v25zM983,568v-18h1v18zM993,568v-23h1v23zM998,568v-69h1v69zM1000,568v-26h1v26zM1001,568v-25h1v25zM1005,568v-16h1v16zM1006,568v-18h1v18zM1010,568v-23h1v23zM1017,568v-19h1v19zM1018,568v-17h1v17zM1019,568v-18h1v18zM1020,568v-17h1v17zM1028,568v-54h1v54zM1029,568v-26h1v26zM1031,568v-28h1v28zM1036,568v-28h1v28zM1038,568v-24h1v24zM1042,568v-34h1v34zM1047,568v-24h1v24zM1048,568v-29h1v29zM1049,568v-21h1v21zM1050,568v-26h1v26zM1052,568v-22h1v22zM1056,568v-32h1v32zM1059,568v-31h1v31zM1062,568v-21h1v21zM1063,568v-21h1v21zM1072,568v-22h1v22zM1074,568v-20h1v20zM1077,568v-20h1v20zM1078,568v-23h1v23zM1079,568v-24h1v24zM1080,568v-26h1v26zM1082,568v-20h1v20zM1088,568v-24h1v24zM1099,568v-24h1v24zM1100,568v-22h1v22zM1101,568v-25h1v25zM1104,568v-31h1v31zM1105,568v-14h1v14zM1109,568v-20h1v20zM1111,568v-16h1v16zM1112,568v-18h1v18zM1114,568v-12h1v12zM1115,568v-20h1v20zM1118,568v-23h1v23zM1119,568v-18h1v18zM1124,568v-23h1v23zM1125,568v-16h1v16zM1126,568v-19h1v19zM1129,568v-17h1v17z" fill="#ef5350" fill-opacity="0.5" shape-rendering="crispEdges"/>
<path d="M1,568v-1h1v1zM2,568v-3h1v3zM5,568v-1h1v1zM6,568v-1h1v1zM9,568v-2h1v2zM10,568v-1h1v1zM12,568v-1h1v1zM13,568v-3h1v3zM19,568v-3h1v3zM22,568v-1h1v1zM26,568v-15h1v15zM28,568v-21h1v21zM30,568v-20h1v20zM31,568v-19h1v19zM33,568v-25h1v25zM37,568v-19h1v19zM39,568v-29h1v29zM40,568v-28h1v28zM42,568v-37h1v37zM44,568v-20h1v20zM45,568v-27h1v27zM48,568v-26h1v26zM52,568v-27h1v27zM56,568v-10h1v10zM58,568v-12h1v12zM70,568v-10h1v10zM72,568v-16h1v16zM74,568v-10h1v10zM78,568v-19h1v19zM79,568v-19h1v19zM83,568v-27h1v27zM84,568v-24h1v24zM85,568v-27h1v27zM88,568v-25h1v25zM90,568v-22h1v22zM93,568v-22h1v22zM94,568v-18h1v18zM95,568v-20h1v20zM96,568v-20h1v20zM99,568v-19h1v19zM100,568v-19h1v19zM103,568v-28h1v28zM105,568v-26h1v26zM110,568v-22h1v22zM113,568v-21h1v21zM114,568v-23h1v23zM117,568v-18h1v18zM118,568v-24h1v24zM125,568v-30h1v30zM126,568v-22h1v22zM128,568v-21h1v21zM130,568v-24h1v24zM133,568v-30h1v30zM139,568v-19h1v19zM141,568v-32h1v32zM142,568v-27h1v27zM149,568v-31h1v31zM152,568v-20h1v20zM153,568v-24h1v24zM156,568v-25h1v25zM157,568v-20h1v20zM158,568v-19h1v19zM160,568v-20h1v20zM164,568v-32h1v32zM166,568v-36h1v36zM167,568v-34h1v34zM172,568v-25h1v25zM173,568v-32h1v32zM176,568v-24h1v24zM179,568v-33h1v33zM180,568v-38h1v38zM185,568v-26h1v26zM186,568v-21h1v21zM187,568v-26h1v26zM188,568v-22h1v22zM190,568v-19h1v19zM196,568v-19h1v19zM197,568v-21h1v21zM198,568v-31h1v31zM199,568v-22h1v22zM201,568v-19h1v19zM202,568v-22h1v22zM204,568v-26h1v26zM206,568v-27h1v27zM210,568v-24h1v24zM214,568v-26h1v26zM217,568v-24h1v24zM220,568v-24h1v24zM221,568v-25h1v25zM222,568v-27h1v27zM223,568v-34h1v34zM224,568v-26h1v26zM229,568v-40h1v40zM231,568v-39h1v39zM232,568v-34h1v34zM235,568v-29h1v29zM237,568v-22h1v22zM239,568v-25h1v25zM240,568v-29h1v29zM245,568v-28h1v28zM246,568v-24h1v24zM247,568v-25h1v25zM250,568v-25h1v25zM251,568v-21h1v21zM253,568v-32h1v32zM254,568v-31h1v31zM258,568v-27h1v27zM259,568v-27h1v27zM260,568v-28h1v28zM264,568v-27h1v27zM266,568v-23h1v23zM270,568v-33h1v33zM271,568v-39h1v39zM272,568v-39h1v39zM273,568v-55h1v55zM286,568v-21h1v21zM287,568v-20h1v20zM289,568v-20h1v20zM291,568v-25h1v25zM292,568v-16h1v16zM294,568v-21h1v21zM296,568v-25h1v25zM299,568v-22h1v22zM300,568v-21h1v21zM303,568v-23h1v23zM304,568v-23h1v23zM306,568v-21h1v21zM309,568v-29h1v29zM310,568v-28h1v28zM311,568v-24h1v24zM312,568v-34h1v34zM314,568v-24h1v24zM317,568v-24h1v24zM318,568v-27h1v27zM320,568v-33h1v33zM322,568v-27h1v27zM323,568v-23h1v23zM330,568v-33h1v33zM331,568v-26h1v26zM334,568v-21h1v21zM335,568v-27h1v27zM336,568v-26h1v26zM340,568v-26h1v26zM343,568v-24h1v24zM344,568v-32h1v32zM349,568v-15h1v15zM350,568v-16h1v16zM353,568v-17h1v17zM355,568v-23h1v23zM356,568v-14h1v14zM357,568v-20h1v20zM358,568v-18h1v18zM360,568v-19h1v19zM365,568v-13h1v13zM369,568v-13h1v13zM372,568v-13h1v13zM373,568v-17h1v17zM374,568v-16h1v16zM376,568v-11h1v11zM379,568v-10h1v10zM381,568v-10h1v10zM382,568v-15h1v15zM384,568v-12h1v12zM385,568v-15h1v15zM386,568v-11h1v11zM388,568v-13h1v13zM391,568v-14h1v14zM396,568v-11h1v11zM399,568v-10h1v10zM400,568v-14h1v14zM406,568v-13h1v13zM409,568v-10h1v10zM411,568v-12h1v12zM414,568v-12h1v12zM417,568v-12h1v12zM421,568v-16h1v16zM422,568v-15h1v15zM428,568v-10h1v10zM429,568v-15h1v15zM430,568v-12h1v12zM432,568v-11h1v11zM435,568v-14h1v14zM436,568v-13h1v13zM438,568v-11h1v11zM439,568v-14h1v14zM447,568v-14h1v14zM450,568v-17h1v17zM452,568v-19h1v19zM455,568v-23h1v23zM456,568v-24h1v24zM458,568v-25h1v25zM459,568v-26h1v26zM465,568v-24h1v24zM466,568v-34h1v34zM473,568v-26h1v26zM481,568v-32h1v32zM483,568v-28h1v28zM484,568v-38h1v38zM486,568v-27h1v27zM489,568v-25h1v25zM492,568v-32h1v32zM496,568v-38h1v38zM498,568v-25h1v25zM500,568v-32h1v32zM504,568v-35h1v35zM510,568v-32h1v32zM513,568v-35h1v35zM518,568v-26h1v26zM519,568v-36h1v36zM521,568v-31h1v31zM523,568v-40h1v40zM526,568v-32h1v32zM528,568v-28h1v28zM529,568v-29h1v29zM533,568v-32h1v32zM536,568v-28h1v28zM537,568v-28h1v28zM539,568v-32h1v32zM540,568v-26h1v26zM541,568v-29h1v29zM543,568v-30h1v30zM549,568v-42h1v42zM551,568v-28h1v28zM553,568v-39h1v39zM557,568v-29h1v29zM558,568v-30h1v30zM559,568v-38h1v38zM566,568v-29h1v29zM568,568v-27h1v27zM570,568v-24h1v24zM571,568v-40h1v40zM573,568v-29h1v29zM575,568v-30h1v30zM576,568v-24h1v24zM579,568v-40h1v40zM580,568v-35h1v35zM588,568v-27h1v27zM591,568v-27h1v27zM597,568v-26h1v26zM599,568v-25h1v25zM602,568v-25h1v25zM605,568v-33h1v33zM608,568v-37h1v37zM612,568v-26h1v26zM614,568v-32h1v32zM617,568v-26h1v26zM620,568v-30h1v30zM626,568v-31h1v31zM628,568v-35h1v35zM631,568v-34h1v34zM632,568v-28h1v28zM635,568v-27h1v27zM636,568v-32h1v32zM641,568v-35h1v35zM646,568v-30h1v30zM647,568v-34h1v34zM650,568v-41h1v41zM653,568v-43h1v43zM659,568v-43h1v43zM662,568v-37h1v37zM663,568v-33h1v33zM664,568v-37h1v37zM667,568v-39h1v39zM669,568v-38h1v38zM677,568v-17h1v17zM678,568v-15h1v15zM681,568v-15h1v15zM682,568v-20h1v20zM685,568v-16h1v16zM689,568v-16h1v16zM691,568v-21h1v21zM692,568v-21h1v21zM697,568v-19h1v19zM698,568v-13h1v13zM699,568v-13h1v13zM701,568v-18h1v18zM702,568v-19h1v19zM703,568v-18h1v18zM708,568v-15h1v15zM710,568v-13h1v13zM714,568v-7h1v7zM715,568v-10h1v10zM717,568v-10h1v10zM718,568v-9h1v9zM722,568v-7h1v7zM723,568v-7h1v7zM726,568v-8h1v8zM727,568v-8h1v8zM729,568v-6h1v6zM731,568v-8h1v8zM732,568v-9h1v9zM733,568v-4h1v4zM739,568v-1h1v1zM741,568v-1h1v1zM742,568v-1h1v1zM748,568v-19h1v19zM750,568v-29h1v29zM753,568v-26h1v26zM756,568v-24h1v24zM758,568v-28h1v28zM762,568v-35h1v35zM763,568v-24h1v24zM766,568v-28h1v28zM767,568v-31h1v31zM768,568v-83h1v83zM778,568v-57h1v57zM779,568v-53h1v53zM784,568v-54h1v54zM785,568v-39h1v39zM786,568v-35h1v35zM787,568v-35h1v35zM789,568v-64h1v64zM803,568v-54h1v54zM805,568v-57h1v57zM806,568v-80h1v80zM811,568v-52h1v52zM813,568v-84h1v84zM814,568v-52h1v52zM816,568v-33h1v33zM818,568v-35h1v35zM819,568v-32h1v32zM826,568v-35h1v35zM831,568v-41h1v41zM836,568v-31h1v31zM838,568v-29h1v29zM841,568v-28h1v28zM844,568v-31h1v31zM847,568v-29h1v29zM848,568v-40h1v40zM849,568v-28h1v28zM854,568v-39h1v39zM856,568v-35h1v35zM857,568v-32h1v32zM860,568v-25h1v25zM861,568v-18h1v18zM864,568v-30h1v30zM866,568v-18h1v18zM867,568v-18h1v18zM869,568v-25h1v25zM872,568v-21h1v21zM873,568v-20h1v20zM874,568v-21h1v21zM875,568v-27h1v27zM876,568v-20h1v20zM877,568v-19h1v19zM878,568v-24h1v24zM879,568v-22h1v22zM880,568v-20h1v20zM884,568v-19h1v19zM886,568v-19h1v19zM890,568v-15h1v15zM891,568v-11h1v11zM893,568v-17h1v17zM898,568v-17h1v17zM899,568v-16h1v16zM903,568v-17h1v17zM906,568v-15h1v15zM908,568v-15h1v15zM913,568v-14h1v14zM914,568v-17h1v17zM915,568v-11h1v11zM920,568v-11h1v11zM921,568v-7h1v7zM924,568v-12h1v12zM925,568v-12h1v12zM929,568v-14h1v14zM931,568v-13h1v13zM932,568v-14h1v14zM934,568v-14h1v14zM937,568v-9h1v9zM940,568v-10h1v10zM941,568v-13h1v13zM942,568v-9h1v9zM944,568v-13h1v13zM948,568v-13h1v13zM953,568v-10h1v10zM954,568v-13h1v13zM959,568v-13h1v13zM964,568v-21h1v21zM970,568v-24h1v24zM974,568v-17h1v17zM975,568v-16h1v16zM977,568v-18h1v18zM978,568v-20h1v20zM979,568v-18h1v18zM980,568v-19h1v19zM984,568v-25h1v25zM986,568v-19h1v19zM987,568v-23h1v23zM988,568v-20h1v20zM989,568v-18h1v18zM990,568v-24h1v24zM991,568v-20h1v20zM994,568v-27h1v27zM995,568v-32h1v32zM1002,568v-27h1v27zM1007,568v-19h1v19zM1008,568v-16h1v16zM1009,568v-16h1v16zM1011,568v-15h1v15zM1013,568v-26h1v26zM1015,568v-18h1v18zM1016,568v-16h1v16zM1021,568v-20h1v20zM1022,568v-24h1v24zM1023,568v-29h1v29zM1027,568v-26h1v26zM1030,568v-27h1v27zM1032,568v-35h1v35zM1035,568v-23h1v23zM1043,568v-31h1v31zM1044,568v-32h1v32zM1045,568v-29h1v29zM1053,568v-22h1v22zM1054,568v-21h1v21zM1055,568v-20h1v20zM1057,568v-26h1v26zM1058,568v-33h1v33zM1060,568v-22h1v22zM1061,568v-23h1v23zM1064,568v-21h1v21zM1065,568v-21h1v21zM1066,568v-20h1v20zM1067,568v-21h1v21zM1069,568v-24h1v24zM1070,568v-20h1v20zM1073,568v-32h1v32zM1076,568v-30h1v30zM1081,568v-32h1v32zM1083,568v-30h1v30zM1090,568v-25h1v25zM1092,568v-31h1v31zM1093,568v-30h1v30zM1094,568v-34h1v34zM1096,568v-29h1v29zM1097,568v-32h1v32zM1103,568v-25h1v25zM1113,568v-13h1v13zM1116,568v-18h1v18zM1117,568v-25h1v25zM1121,568v-22h1v22zM1123,568v-20h1v20zM1127,568v-24h1v24zM1128,568v-31h1v31z" fill="#8a7c75" fill-opacity="0.5" shape-rendering="crispEdges"/>
<path d="M1,567v-2h1v2zM3,567v-3h1v3zM6,567v-1h1v1zM10,567v-3h1v3zM11,566v-1h1v1zM12,567v-14h1v14zM13,565v-12h1v12zM14,568v-2h1v2zM16,566v-2h1v2zM23,568v-4h1v4zM25,562v-3h1v3zM26,553v-9h1v9zM28,547v-16h1v16zM36,551v-6h1v6zM38,548v-4h1v4zM41,543v-9h1v9zM45,541v-2h1v2zM49,544v-16h1v16zM50,545v-17h1v17zM51,543v-5h1v5zM57,558v-1h1v1zM59,559v-6h1v6zM60,558v-2h1v2zM67,558v-5h1v5zM68,555v-1h1v1zM75,551v-4h1v4zM76,553v-3h1v3zM77,552v-12h1v12zM79,549v-9h1v9zM80,550v-6h1v6zM84,544v-8h1v8zM85,541v-1h1v1zM86,543v-7h1v7zM87,549v-10h1v10zM92,548v-11h1v11zM93,546v-11h1v11zM95,548v-5h1v5zM96,548v-3h1v3zM104,542v-6h1v6zM106,550v-8h1v8zM107,547v-10h1v10zM108,543v-2h1v2zM109,542v-3h1v3zM111,545v-1h1v1zM113,547v-12h1v12zM114,545v-9h1v9zM117,550v-3h1v3zM120,536v-8h1v8zM123,549v-6h1v6zM124,548v-1h1v1zM127,546v-11h1v11zM128,547v-2h1v2zM131,548v-7h1v7zM134,542v-5h1v5zM136,538v-2h1v2zM137,544v-5h1v5zM138,539v-2h1v2zM140,544v-1h1v1zM141,536v-1h1v1zM142,541v-4h1v4zM143,547v-7h1v7zM146,537v-3h1v3zM149,537v-2h1v2zM152,548v-11h1v11zM153,544v-9h1v9zM154,547v-4h1v4zM155,535v-1h1v1zM157,548v-1h1v1zM159,548v-9h1v9zM160,548v-5h1v5zM176,544v-7h1v7zM183,539v-4h1v4zM184,539v-3h1v3zM188,546v-11h1v11zM189,542v-4h1v4zM190,549v-8h1v8zM193,549v-1h1v1zM194,542v-7h1v7zM197,547v-5h1v5zM201,549v-3h1v3zM203,545v-10h1v10zM205,545v-6h1v6zM213,548v-8h1v8zM214,542v-1h1v1zM215,545v-5h1v5zM216,542v-6h1v6zM218,549v-11h1v11zM220,544v-9h1v9zM221,543v-10h1v10zM224,542v-14h1v14zM227,543v-9h1v9zM228,528v-3h1v3zM230,526v-20h1v20zM232,534v-14h1v14zM235,539v-11h1v11zM236,533v-6h1v6zM237,546v-14h1v14zM238,536v-7h1v7zM245,540v-1h1v1zM252,540v-5h1v5zM253,536v-6h1v6zM254,537v-5h1v5zM255,545v-10h1v10zM256,547v-1h1v1zM259,541v-8h1v8zM261,539v-4h1v4zM262,541v-7h1v7zM263,534v-1h1v1zM264,541v-10h1v10zM265,547v-9h1v9zM266,545v-4h1v4zM270,535v-5h1v5zM274,543v-10h1v10zM275,533v-3h1v3zM276,542v-13h1v13zM277,540v-13h1v13zM283,552v-13h1v13zM284,545v-4h1v4zM289,548v-8h1v8zM292,552v-8h1v8zM294,547v-5h1v5zM295,552v-8h1v8zM299,546v-6h1v6zM302,546v-5h1v5zM303,545v-4h1v4zM307,541v-9h1v9zM308,539v-3h1v3zM309,539v-6h1v6zM312,534v-12h1v12zM315,544v-2h1v2zM316,541v-9h1v9zM319,539v-4h1v4zM320,535v-1h1v1zM323,545v-7h1v7zM327,539v-6h1v6zM330,535v-3h1v3zM331,542v-6h1v6zM334,547v-4h1v4zM342,544v-10h1v10zM346,543v-3h1v3zM347,539v-1h1v1zM348,547v-4h1v4zM353,551v-6h1v6zM356,554v-10h1v10zM358,550v-5h1v5zM359,549v-4h1v4zM360,549v-3h1v3zM362,552v-5h1v5zM363,550v-2h1v2zM364,555v-9h1v9zM365,555v-6h1v6zM366,554v-6h1v6zM368,551v-4h1v4zM369,555v-6h1v6zM371,555v-1h1v1zM377,555v-5h1v5zM379,558v-1h1v1zM382,553v-1h1v1zM383,558v-3h1v3zM387,558v-4h1v4zM389,554v-1h1v1zM391,554v-3h1v3zM392,556v-3h1v3zM393,556v-2h1v2zM394,556v-5h1v5zM395,555v-1h1v1zM397,556v-2h1v2zM398,555v-1h1v1zM401,553v-1h1v1zM403,556v-2h1v2zM404,558v-5h1v5zM406,555v-4h1v4zM407,558v-1h1v1zM409,558v-5h1v5zM413,555v-1h1v1zM414,556v-2h1v2zM415,558v-1h1v1zM416,558v-4h1v4zM417,556v-3h1v3zM419,555v-2h1v2zM422,553v-1h1v1zM426,558v-6h1v6zM427,554v-3h1v3zM429,553v-2h1v2zM431,557v-4h1v4zM432,557v-1h1v1zM433,557v-3h1v3zM445,552v-2h1v2zM446,555v-5h1v5zM449,549v-3h1v3zM450,551v-2h1v2zM452,549v-3h1v3zM453,544v-2h1v2zM459,542v-2h1v2zM461,533v-5h1v5zM462,536v-4h1v4zM465,544v-15h1v15zM474,536v-6h1v6zM478,539v-9h1v9zM479,535v-3h1v3zM482,537v-2h1v2zM483,540v-1h1v1zM484,530v-2h1v2zM487,536v-3h1v3zM488,539v-14h1v14zM489,543v-14h1v14zM491,542v-2h1v2zM494,532v-1h1v1zM495,530v-2h1v2zM496,530v-10h1v10zM501,536v-1h1v1zM502,534v-10h1v10zM503,536v-2h1v2zM504,533v-8h1v8zM507,529v-1h1v1zM509,541v-1h1v1zM511,533v-1h1v1zM512,542v-2h1v2zM517,540v-2h1v2zM518,542v-12h1v12zM520,544v-9h1v9zM521,537v-11h1v11zM523,528v-2h1v2zM529,539v-6h1v6zM535,542v-14h1v14zM537,540v-6h1v6zM538,532v-3h1v3zM539,536v-3h1v3zM541,539v-13h1v13zM543,538v-4h1v4zM544,542v-1h1v1zM545,532v-5h1v5zM549,526v-1h1v1zM550,544v-10h1v10zM551,540v-10h1v10zM553,529v-4h1v4zM554,541v-10h1v10zM556,537v-1h1v1zM558,538v-12h1v12zM559,530v-12h1v12zM561,544v-16h1v16zM565,526v-1h1v1zM570,544v-11h1v11zM571,528v-3h1v3zM572,537v-11h1v11zM573,539v-11h1v11zM575,538v-11h1v11zM576,544v-11h1v11zM578,534v-6h1v6zM580,533v-4h1v4zM581,540v-7h1v7zM585,531v-11h1v11zM586,537v-6h1v6zM591,541v-7h1v7zM592,544v-1h1v1zM596,544v-7h1v7zM598,536v-5h1v5zM604,544v-8h1v8zM605,535v-6h1v6zM608,531v-7h1v7zM609,534v-6h1v6zM611,534v-12h1v12zM613,539v-5h1v5zM616,541v-6h1v6zM618,536v-7h1v7zM620,538v-9h1v9zM621,534v-9h1v9zM626,537v-12h1v12zM628,533v-9h1v9zM631,534v-7h1v7zM632,540v-4h1v4zM634,528v-2h1v2zM635,541v-7h1v7zM638,533v-6h1v6zM647,534v-9h1v9zM651,533v-12h1v12zM652,531v-7h1v7zM654,533v-12h1v12zM657,526v-2h1v2zM658,532v-15h1v15zM660,536v-7h1v7zM661,535v-1h1v1zM664,531v-14h1v14zM665,530v-7h1v7zM668,526v-2h1v2zM673,554v-3h1v3zM676,556v-11h1v11zM689,552v-3h1v3zM690,552v-2h1v2zM692,547v-1h1v1zM694,553v-6h1v6zM696,553v-2h1v2zM698,555v-6h1v6zM700,555v-2h1v2zM706,552v-2h1v2zM707,555v-3h1v3zM709,555v-4h1v4zM710,555v-3h1v3zM714,561v-3h1v3zM716,560v-2h1v2zM719,560v-4h1v4zM720,559v-2h1v2zM721,561v-1h1v1zM723,561v-4h1v4zM724,560v-3h1v3zM726,560v-2h1v2zM729,562v-1h1v1zM730,561v-5h1v5zM732,559v-1h1v1zM734,566v-1h1v1zM744,568v-1h1v1zM748,549v-3h1v3zM749,547v-1h1v1zM750,539v-4h1v4zM754,539v-2h1v2zM755,533v-3h1v3zM756,544v-11h1v11zM759,538v-1h1v1zM760,544v-10h1v10zM761,533v-1h1v1zM762,533v-5h1v5zM763,544v-16h1v16zM764,540v-12h1v12zM766,540v-3h1v3zM768,485v-26h1v26zM770,532v-3h1v3zM771,537v-2h1v2zM772,542v-13h1v13zM774,520v-1h1v1zM777,523v-1h1v1zM778,511v-23h1v23zM780,532v-5h1v5zM781,534v-6h1v6zM782,528v-2h1v2zM783,534v-17h1v17zM790,451v-15h1v15zM792,471v-15h1v15zM794,444v-4h1v4zM796,446v-3h1v3zM798,493v-5h1v5zM799,473v-15h1v15zM800,503v-18h1v18zM801,496v-12h1v12zM802,504v-12h1v12zM804,492v-2h1v2zM809,486v-35h1v35zM818,533v-10h1v10zM821,530v-4h1v4zM823,517v-17h1v17zM824,530v-4h1v4zM825,522v-20h1v20zM827,535v-12h1v12zM828,532v-6h1v6zM829,527v-8h1v8zM830,527v-15h1v15zM831,527v-1h1v1zM832,531v-2h1v2zM837,537v-7h1v7zM838,539v-12h1v12zM840,543v-10h1v10zM843,542v-12h1v12zM844,537v-1h1v1zM848,528v-3h1v3zM849,540v-8h1v8zM852,528v-13h1v13zM857,536v-2h1v2zM864,538v-1h1v1zM865,544v-5h1v5zM869,543v-3h1v3zM871,546v-5h1v5zM873,548v-11h1v11zM876,548v-1h1v1zM878,544v-2h1v2zM879,546v-1h1v1zM883,550v-6h1v6zM887,554v-1h1v1zM890,553v-3h1v3zM892,555v-5h1v5zM895,554v-3h1v3zM896,553v-2h1v2zM897,554v-2h1v2zM899,552v-1h1v1zM901,554v-1h1v1zM904,552v-2h1v2zM910,552v-8h1v8zM915,557v-4h1v4zM918,560v-1h1v1zM923,561v-2h1v2zM925,556v-1h1v1zM927,547v-3h1v3zM930,554v-4h1v4zM931,555v-6h1v6zM932,554v-1h1v1zM933,548v-4h1v4zM935,558v-6h1v6zM937,559v-5h1v5zM942,559v-4h1v4zM947,556v-6h1v6zM952,557v-3h1v3zM954,555v-2h1v2zM955,558v-4h1v4zM956,553v-1h1v1zM959,555v-4h1v4zM973,546v-5h1v5zM975,552v-6h1v6zM977,550v-6h1v6zM980,549v-9h1v9zM981,547v-5h1v5zM986,549v-8h1v8zM987,545v-4h1v4zM988,548v-2h1v2zM991,548v-8h1v8zM992,539v-2h1v2zM996,546v-12h1v12zM997,530v-2h1v2zM999,540v-6h1v6zM1002,541v-10h1v10zM1012,553v-7h1v7zM1014,548v-4h1v4zM1015,550v-7h1v7zM1016,552v-6h1v6zM1021,548v-7h1v7zM1022,544v-8h1v8zM1024,547v-11h1v11zM1025,545v-9h1v9zM1026,535v-5h1v5zM1033,536v-2h1v2zM1034,536v-2h1v2zM1035,545v-9h1v9zM1037,533v-6h1v6zM1039,534v-1h1v1zM1041,530v-8h1v8zM1044,536v-5h1v5zM1045,539v-9h1v9zM1046,538v-2h1v2zM1051,548v-14h1v14zM1053,546v-1h1v1zM1054,547v-9h1v9zM1060,546v-2h1v2zM1064,547v-3h1v3zM1068,543v-5h1v5zM1070,548v-3h1v3zM1071,538v-4h1v4zM1073,536v-2h1v2zM1075,547v-11h1v11zM1083,538v-12h1v12zM1085,535v-1h1v1zM1086,538v-9h1v9zM1087,544v-8h1v8zM1091,544v-15h1v15zM1092,537v-8h1v8zM1093,538v-10h1v10zM1094,534v-6h1v6zM1095,542v-9h1v9zM1097,536v-3h1v3zM1098,537v-4h1v4zM1102,533v-3h1v3zM1106,555v-1h1v1zM1108,556v-4h1v4zM1110,549v-2h1v2zM1113,555v-5h1v5zM1120,551v-9h1v9zM1121,546v-2h1v2zM1122,547v-1h1v1zM1127,544v-1h1v1z" fill="#26a69a" fill-opacity="0.27" shape-rendering="crispEdges"/>
<path d="M0,566v-1h1v1zM4,566v-2h1v2zM5,567v-2h1v2zM8,568v-1h1v1zM15,567v-1h1v1zM18,565v-1h1v1zM20,568v-3h1v3zM22,567v-3h1v3zM24,565v-1h1v1zM27,547v-1h1v1zM29,543v-12h1v12zM30,548v-15h1v15zM31,549v-16h1v16zM32,545v-3h1v3zM33,543v-2h1v2zM34,550v-7h1v7zM35,547v-3h1v3zM37,549v-5h1v5zM40,540v-3h1v3zM43,531v-5h1v5zM48,542v-4h1v4zM53,554v-6h1v6zM54,556v-5h1v5zM55,559v-2h1v2zM58,556v-1h1v1zM61,555v-1h1v1zM62,557v-4h1v4zM63,559v-1h1v1zM64,554v-1h1v1zM65,555v-3h1v3zM66,555v-1h1v1zM69,556v-2h1v2zM70,558v-1h1v1zM73,555v-1h1v1zM74,558v-1h1v1zM78,549v-9h1v9zM82,542v-3h1v3zM83,541v-5h1v5zM88,543v-3h1v3zM89,543v-2h1v2zM90,546v-5h1v5zM91,548v-11h1v11zM94,550v-4h1v4zM97,550v-12h1v12zM98,546v-9h1v9zM99,549v-19h1v19zM100,549v-19h1v19zM110,546v-7h1v7zM112,539v-1h1v1zM115,544v-7h1v7zM116,538v-3h1v3zM118,544v-2h1v2zM119,539v-11h1v11zM121,545v-9h1v9zM122,547v-8h1v8zM126,546v-5h1v5zM129,548v-5h1v5zM130,544v-3h1v3zM135,549v-10h1v10zM139,549v-6h1v6zM144,544v-4h1v4zM145,537v-2h1v2zM147,548v-8h1v8zM148,545v-7h1v7zM150,539v-2h1v2zM151,548v-9h1v9zM156,543v-4h1v4zM158,549v-8h1v8zM161,547v-15h1v15zM162,546v-5h1v5zM163,542v-8h1v8zM164,536v-1h1v1zM166,532v-1h1v1zM167,534v-2h1v2zM168,542v-3h1v3zM169,545v-1h1v1zM170,530v-2h1v2zM171,545v-8h1v8zM172,543v-10h1v10zM173,536v-3h1v3zM174,541v-6h1v6zM175,537v-10h1v10zM177,542v-3h1v3zM180,530v-7h1v7zM181,529v-6h1v6zM182,541v-10h1v10zM185,542v-1h1v1zM186,547v-4h1v4zM187,542v-2h1v2zM191,536v-2h1v2zM192,541v-4h1v4zM195,542v-5h1v5zM196,549v-2h1v2zM198,537v-2h1v2zM199,546v-10h1v10zM200,539v-5h1v5zM202,546v-6h1v6zM204,542v-8h1v8zM207,549v-10h1v10zM208,547v-4h1v4zM209,540v-1h1v1zM210,544v-10h1v10zM212,540v-1h1v1zM217,544v-9h1v9zM219,537v-3h1v3zM222,541v-3h1v3zM223,534v-2h1v2zM225,540v-7h1v7zM229,528v-2h1v2zM234,534v-8h1v8zM239,543v-4h1v4zM240,539v-3h1v3zM242,537v-1h1v1zM243,541v-7h1v7zM244,547v-3h1v3zM248,537v-6h1v6zM250,543v-11h1v11zM251,547v-5h1v5zM257,547v-13h1v13zM258,541v-11h1v11zM260,540v-10h1v10zM267,531v-1h1v1zM268,543v-14h1v14zM269,534v-1h1v1zM278,537v-2h1v2zM279,531v-2h1v2zM280,546v-2h1v2zM281,548v-5h1v5zM282,548v-2h1v2zM286,547v-6h1v6zM287,548v-7h1v7zM288,545v-6h1v6zM290,549v-4h1v4zM293,549v-4h1v4zM296,543v-3h1v3zM297,546v-7h1v7zM298,552v-12h1v12zM300,547v-7h1v7zM301,548v-7h1v7zM304,545v-8h1v8zM305,536v-5h1v5zM306,547v-2h1v2zM310,540v-9h1v9zM311,544v-4h1v4zM314,544v-8h1v8zM317,544v-13h1v13zM318,541v-8h1v8zM321,547v-4h1v4zM322,541v-6h1v6zM324,536v-2h1v2zM325,542v-12h1v12zM326,537v-4h1v4zM328,537v-4h1v4zM329,545v-7h1v7zM332,547v-3h1v3zM333,547v-7h1v7zM335,541v-13h1v13zM336,542v-14h1v14zM337,536v-5h1v5zM338,545v-6h1v6zM339,533v-1h1v1zM340,542v-3h1v3zM341,548v-2h1v2zM343,544v-1h1v1zM344,536v-14h1v14zM349,553v-9h1v9zM350,552v-5h1v5zM351,544v-1h1v1zM357,548v-3h1v3zM361,554v-1h1v1zM372,555v-5h1v5zM374,552v-1h1v1zM375,557v-3h1v3zM376,557v-4h1v4zM378,558v-7h1v7zM381,558v-7h1v7zM384,556v-2h1v2zM386,557v-2h1v2zM388,555v-3h1v3zM390,555v-3h1v3zM400,554v-2h1v2zM402,551v-1h1v1zM408,558v-3h1v3zM410,556v-5h1v5zM411,556v-1h1v1zM412,555v-1h1v1zM418,557v-4h1v4zM420,555v-4h1v4zM421,552v-1h1v1zM423,557v-5h1v5zM424,558v-7h1v7zM425,556v-2h1v2zM428,558v-4h1v4zM430,556v-1h1v1zM434,555v-2h1v2zM435,554v-3h1v3zM436,555v-1h1v1zM438,557v-6h1v6zM439,554v-1h1v1zM440,555v-3h1v3zM442,556v-2h1v2zM443,555v-1h1v1zM447,554v-3h1v3zM448,549v-2h1v2zM451,549v-3h1v3zM454,548v-5h1v5zM455,545v-7h1v7zM456,544v-1h1v1zM457,540v-5h1v5zM458,543v-11h1v11zM460,529v-1h1v1zM464,541v-13h1v13zM467,544v-3h1v3zM468,542v-8h1v8zM469,541v-12h1v12zM470,537v-7h1v7zM471,535v-10h1v10zM472,541v-3h1v3zM473,542v-9h1v9zM475,543v-12h1v12zM476,543v-10h1v10zM480,537v-12h1v12zM481,536v-10h1v10zM485,539v-3h1v3zM492,536v-9h1v9zM493,538v-3h1v3zM497,529v-9h1v9zM498,543v-8h1v8zM499,530v-3h1v3zM500,536v-11h1v11zM505,540v-7h1v7zM508,540v-7h1v7zM510,536v-6h1v6zM513,533v-2h1v2zM514,530v-10h1v10zM519,532v-2h1v2zM522,536v-2h1v2zM524,543v-12h1v12zM525,540v-3h1v3zM526,536v-7h1v7zM527,536v-8h1v8zM528,540v-10h1v10zM530,541v-12h1v12zM532,526v-14h1v14zM533,536v-8h1v8zM536,540v-12h1v12zM540,542v-9h1v9zM542,535v-2h1v2zM546,529v-2h1v2zM548,541v-11h1v11zM557,539v-6h1v6zM560,533v-15h1v15zM562,543v-7h1v7zM563,543v-5h1v5zM566,539v-13h1v13zM569,527v-1h1v1zM577,535v-2h1v2zM579,528v-3h1v3zM582,538v-1h1v1zM583,543v-11h1v11zM587,542v-5h1v5zM588,541v-3h1v3zM589,536v-2h1v2zM590,536v-8h1v8zM593,533v-4h1v4zM594,532v-4h1v4zM595,542v-3h1v3zM600,544v-12h1v12zM602,543v-7h1v7zM603,534v-2h1v2zM606,532v-7h1v7zM607,534v-2h1v2zM612,542v-12h1v12zM614,536v-4h1v4zM617,542v-14h1v14zM619,540v-4h1v4zM622,538v-6h1v6zM623,529v-3h1v3zM625,526v-4h1v4zM627,530v-5h1v5zM629,536v-13h1v13zM630,530v-6h1v6zM636,536v-7h1v7zM637,538v-11h1v11zM639,533v-7h1v7zM641,533v-3h1v3zM643,525v-21h1v21zM646,538v-6h1v6zM648,522v-1h1v1zM649,522v-12h1v12zM650,527v-17h1v17zM653,525v-3h1v3zM655,531v-3h1v3zM656,533v-11h1v11zM662,531v-5h1v5zM663,535v-2h1v2zM671,536v-14h1v14zM674,552v-2h1v2zM675,550v-1h1v1zM677,551v-3h1v3zM678,553v-7h1v7zM679,554v-4h1v4zM680,550v-4h1v4zM681,553v-6h1v6zM683,555v-5h1v5zM684,553v-8h1v8zM686,554v-2h1v2zM687,552v-5h1v5zM688,554v-8h1v8zM691,547v-2h1v2zM693,555v-5h1v5zM695,552v-2h1v2zM697,549v-2h1v2zM699,555v-1h1v1zM701,550v-1h1v1zM703,550v-4h1v4zM704,551v-2h1v2zM705,551v-4h1v4zM708,553v-3h1v3zM711,554v-2h1v2zM712,561v-3h1v3zM715,558v-1h1v1zM717,558v-2h1v2zM718,559v-1h1v1zM722,561v-4h1v4zM725,559v-2h1v2zM727,560v-12h1v12zM728,556v-8h1v8zM731,560v-2h1v2zM733,564v-3h1v3zM747,568v-20h1v20zM751,547v-13h1v13zM752,546v-1h1v1zM753,542v-6h1v6zM757,534v-3h1v3zM758,540v-6h1v6zM765,542v-2h1v2zM773,534v-8h1v8zM775,520v-4h1v4zM776,514v-1h1v1zM785,529v-13h1v13zM788,511v-6h1v6zM789,504v-1h1v1zM803,514v-26h1v26zM811,516v-4h1v4zM814,516v-22h1v22zM815,532v-17h1v17zM817,528v-14h1v14zM820,524v-1h1v1zM833,530v-12h1v12zM834,534v-14h1v14zM835,526v-8h1v8zM836,537v-14h1v14zM842,542v-3h1v3zM845,542v-10h1v10zM846,540v-8h1v8zM847,539v-5h1v5zM850,534v-4h1v4zM851,534v-7h1v7zM856,533v-5h1v5zM858,544v-7h1v7zM859,550v-13h1v13zM860,543v-6h1v6zM861,550v-12h1v12zM862,549v-6h1v6zM863,549v-7h1v7zM866,550v-2h1v2zM867,550v-6h1v6zM868,549v-6h1v6zM870,550v-11h1v11zM872,547v-4h1v4zM877,549v-8h1v8zM881,549v-1h1v1zM884,549v-4h1v4zM889,558v-2h1v2zM891,557v-7h1v7zM893,551v-1h1v1zM894,556v-6h1v6zM898,551v-1h1v1zM900,553v-6h1v6zM902,553v-8h1v8zM903,551v-4h1v4zM906,553v-9h1v9zM907,553v-3h1v3zM908,553v-9h1v9zM909,553v-5h1v5zM911,551v-4h1v4zM912,554v-11h1v11zM913,554v-9h1v9zM917,560v-3h1v3zM919,559v-3h1v3zM920,557v-1h1v1zM921,561v-2h1v2zM926,553v-6h1v6zM928,553v-9h1v9zM929,554v-6h1v6zM934,554v-6h1v6zM936,559v-4h1v4zM938,560v-2h1v2zM939,557v-2h1v2zM940,558v-3h1v3zM946,554v-3h1v3zM948,555v-1h1v1zM949,555v-5h1v5zM951,558v-1h1v1zM953,558v-4h1v4zM957,552v-1h1v1zM958,558v-4h1v4zM960,557v-3h1v3zM962,552v-1h1v1zM963,552v-6h1v6zM964,547v-6h1v6zM965,551v-10h1v10zM966,550v-3h1v3zM969,551v-2h1v2zM972,552v-1h1v1zM974,551v-6h1v6zM976,550v-7h1v7zM978,548v-6h1v6zM979,550v-2h1v2zM982,543v-1h1v1zM984,543v-1h1v1zM989,550v-3h1v3zM990,544v-2h1v2zM993,545v-11h1v11zM994,541v-7h1v7zM995,536v-4h1v4zM1000,542v-11h1v11zM1001,543v-15h1v15zM1005,552v-8h1v8zM1007,549v-3h1v3zM1008,552v-12h1v12zM1009,552v-6h1v6zM1010,545v-2h1v2zM1011,553v-3h1v3zM1013,542v-1h1v1zM1017,549v-3h1v3zM1019,550v-9h1v9zM1020,551v-2h1v2zM1023,539v-4h1v4zM1027,542v-3h1v3zM1029,542v-10h1v10zM1030,541v-3h1v3zM1031,540v-5h1v5zM1032,533v-3h1v3zM1036,540v-4h1v4zM1038,544v-10h1v10zM1042,534v-3h1v3zM1043,537v-4h1v4zM1047,544v-1h1v1zM1049,547v-3h1v3zM1050,542v-4h1v4zM1052,546v-12h1v12zM1055,548v-13h1v13zM1056,536v-2h1v2zM1057,542v-2h1v2zM1059,537v-2h1v2zM1061,545v-9h1v9zM1062,547v-6h1v6zM1063,547v-1h1v1zM1065,547v-13h1v13zM1066,548v-5h1v5zM1067,547v-11h1v11zM1069,544v-2h1v2zM1072,546v-7h1v7zM1076,538v-1h1v1zM1077,548v-5h1v5zM1078,545v-10h1v10zM1079,544v-3h1v3zM1080,542v-1h1v1zM1081,536v-2h1v2zM1082,548v-7h1v7zM1088,544v-8h1v8zM1090,543v-6h1v6zM1096,539v-1h1v1zM1100,546v-1h1v1zM1101,543v-10h1v10zM1103,543v-14h1v14zM1104,537v-2h1v2zM1105,554v-4h1v4zM1109,548v-1h1v1zM1111,552v-4h1v4zM1112,550v-3h1v3zM1114,556v-3h1v3zM1115,548v-3h1v3zM1116,550v-3h1v3zM1119,550v-9h1v9zM1123,548v-4h1v4zM1124,545v-2h1v2zM1125,552v-9h1v9zM1126,549v-1h1v1zM1129,551v-9h1v9z" fill="#ef5350" fill-opacity="0.27" shape-rendering="crispEdges"/>

<path d="M0.0,505.0 L0.5,504.0 L1.0,500.9 L1.5,498.6 L2.0,493.8 L2.5,497.2 L3.0,493.7 L3.5,482.5 L4.0,483.6 L4.5,485.6 L5.0,482.7 L5.5,497.1 L6.0,485.4 L6.5,484.1 L7.0,481.0 L7.5,484.3 L8.0,488.0 L8.5,493.3 L9.0,496.2 L9.5,499.3 L10.0,502.5 L10.5,501.2 L11.0,507.4 L11.5,501.1 L12.0,506.0 L12.5,500.9 L13.0,501.9 L13.6,495.8 L14.1,487.9 L14.6,493.6 L15.1,488.1 L15.7,489.3 L16.2,485.4 L16.7,481.7 L17.2,486.6 L17.8,490.8 L18.4,494.9 L18.9,499.0 L19.4,502.7 L20.0,508.0 L20.5,505.7 L21.0,504.2 L21.5,500.8 L22.0,498.9 L22.5,498.5 L23.0,496.1 L23.5,492.9 L24.0,493.7 L24.5,484.0 L25.0,487.2 L25.5,486.0 L26.0,487.6 L26.5,488.9 L27.0,491.2 L27.6,488.1 L28.1,496.0 L28.6,491.9 L29.1,501.5 L29.6,498.0 L30.1,504.0 L30.6,506.0 L31.1,511.5 L31.6,508.5 L32.1,514.6 L32.6,516.4 L33.1,519.7 L33.6,517.0 L34.1,512.7 L34.6,513.2 L35.1,512.4 L35.7,514.6 L36.2,515.0 L36.7,510.9 L37.2,511.3 L37.7,510.0 L38.2,509.3 L38.7,500.4 L39.2,500.9 L39.7,498.8 L40.2,488.3 L40.7,489.8 L41.2,483.7 L41.7,485.0 L42.2,489.0 L42.8,488.3 L43.3,491.8 L43.9,494.9 L44.4,498.0 L44.9,496.2 L45.4,490.6 L46.0,488.1 L46.5,481.1 L47.0,479.5 L47.6,481.6 L48.1,479.6 L48.7,486.3 L49.2,488.0 L49.8,493.0 L50.3,490.3 L50.9,490.1 L51.4,484.5 L52.0,476.7 L52.5,473.0 L53.0,474.6 L53.5,474.1 L54.0,474.8 L54.5,470.0 L55.0,465.6 L55.5,471.5 L56.0,463.0 L56.5,461.7 L57.1,463.9 L57.6,467.6 L58.1,469.9 L58.7,474.9 L59.2,479.5 L59.7,488.3 L60.3,482.0 L60.8,486.6 L61.4,486.7 L61.9,488.0 L62.4,484.3 L63.0,488.7 L63.5,482.9 L64.1,487.3 L64.6,487.6 L65.1,486.7 L65.6,488.7 L66.1,493.4 L66.6,490.1 L67.1,483.6 L67.6,483.1 L68.1,478.2 L68.6,479.5 L69.1,483.8 L69.6,486.0 L70.1,486.9 L70.6,486.4 L71.1,492.4 L71.6,494.0 L72.1,497.5 L72.6,498.0 L73.1,497.6 L73.6,496.9 L74.1,503.6 L74.7,503.6 L75.2,492.9 L75.7,501.3 L76.2,506.6 L76.7,512.0 L77.2,511.1 L77.8,515.1 L78.3,515.7 L78.9,515.4 L79.5,522.9 L80.0,522.6 L80.5,516.3 L81.0,508.7 L81.5,507.9 L81.9,506.6 L82.4,496.5 L82.9,494.0 L83.4,489.0 L83.9,491.0 L84.4,495.2 L85.0,493.6 L85.5,497.2 L86.0,501.0 L86.5,498.7 L87.0,500.7 L87.5,501.6 L88.0,503.9 L88.5,502.8 L89.0,505.6 L89.5,501.8 L90.0,509.0 L90.5,505.6 L91.0,504.2 L91.5,505.7 L92.0,496.2 L92.5,487.1 L93.0,489.2 L93.5,475.8 L94.0,479.5 L94.5,479.6 L95.0,478.7 L95.5,477.0 L96.0,482.6 L96.5,477.8 L97.0,472.7 L97.5,473.5 L98.0,471.0 L98.5,462.7 L99.0,459.7 L99.5,460.7 L100.0,461.9 L100.5,473.4 L101.0,475.4 L101.5,474.8 L102.1,476.8 L102.6,470.2 L103.1,470.5 L103.6,477.0 L104.1,471.7 L104.7,477.3 L105.2,479.1 L105.8,481.7 L106.3,486.2 L106.8,481.8 L107.4,480.8 L107.9,486.9 L108.5,492.5 L109.0,493.0 L109.5,481.1 L110.0,474.3 L110.6,474.6 L111.1,459.6 L111.6,452.6 L112.1,453.4 L112.6,457.5 L113.1,453.3 L113.7,464.4 L114.2,461.6 L114.7,463.9 L115.2,467.9 L115.7,469.0 L116.2,472.3 L116.7,478.5 L117.2,471.6 L117.7,478.1 L118.2,481.4 L118.7,479.5 L119.2,478.9 L119.7,479.5 L120.2,486.2 L120.7,485.7 L121.2,488.9 L121.7,490.1 L122.3,493.5 L122.8,498.2 L123.3,497.3 L123.8,499.1 L124.3,502.4 L124.8,501.8 L125.3,496.4 L125.9,494.6 L126.4,491.8 L126.9,485.4 L127.4,486.1 L128.0,480.2 L128.5,480.5 L129.0,471.5 L129.5,470.4 L130.0,468.8 L130.5,468.3 L131.0,457.4 L131.5,458.5 L132.0,457.9 L132.5,457.9 L133.0,455.0 L133.5,455.6 L134.0,453.9 L134.5,455.1 L135.0,457.6 L135.5,456.2 L136.0,463.0 L136.5,457.7 L137.0,459.0 L137.5,450.1 L138.0,446.8 L138.5,441.9 L139.0,440.7 L139.5,437.2 L140.0,430.0 L140.5,426.0 L141.0,432.7 L141.5,433.5 L142.0,437.9 L142.5,447.9 L143.0,443.6 L143.5,443.4 L144.0,442.0 L144.5,448.8 L145.1,450.8 L145.6,461.0 L146.1,455.2 L146.7,458.6 L147.2,454.9 L147.7,453.5 L148.2,455.7 L148.8,458.9 L149.3,459.4 L149.8,457.3 L150.4,456.5 L150.9,445.9 L151.5,448.0 L152.0,450.5 L152.5,448.7 L153.1,446.8 L153.6,443.5 L154.2,446.2 L154.7,442.0 L155.2,439.2 L155.8,440.9 L156.3,440.3 L156.8,444.3 L157.3,439.2 L157.9,441.4 L158.4,438.6 L158.9,437.6 L159.5,435.5 L160.0,432.5 L160.5,430.5 L161.0,424.3 L161.5,418.8 L162.0,418.0 L162.5,410.7 L163.0,409.7 L163.5,406.9 L164.0,411.0 L164.5,407.5 L165.0,418.6 L165.5,409.8 L166.0,415.1 L166.5,412.7 L167.0,412.2 L167.5,411.0 L168.0,409.6 L168.5,414.0 L169.0,414.3 L169.5,419.9 L170.0,423.6 L170.5,422.5 L171.0,426.8 L171.5,430.3 L172.0,433.5 L172.5,433.1 L173.0,436.7 L173.5,442.0 L174.0,436.9 L174.5,428.6 L175.0,421.0 L175.5,411.5 L176.0,408.0 L176.5,412.3 L177.0,419.9 L177.5,423.0 L178.0,422.9 L178.5,430.2 L179.0,433.8 L179.5,430.6 L180.0,431.1 L180.5,429.7 L181.0,438.1 L181.5,438.8 L182.0,442.6 L182.6,437.4 L183.1,435.6 L183.6,438.0 L184.1,437.6 L184.6,429.1 L185.1,434.8 L185.6,429.8 L186.1,424.5 L186.7,428.4 L187.2,426.7 L187.8,425.7 L188.3,430.7 L188.8,432.7 L189.4,424.0 L189.9,424.2 L190.5,428.6 L191.0,431.0 L191.5,426.1 L191.9,423.9 L192.4,417.7 L192.9,418.5 L193.4,418.3 L193.9,416.0 L194.4,416.4 L194.9,418.3 L195.4,412.7 L196.0,412.8 L196.5,419.2 L197.0,419.6 L197.5,416.6 L198.0,414.4 L198.5,414.7 L199.0,415.0 L199.5,416.0 L200.0,419.0 L200.6,416.1 L201.1,417.8 L201.6,418.5 L202.1,424.2 L202.7,426.1 L203.2,420.5 L203.7,421.7 L204.2,421.7 L204.8,422.4 L205.3,419.5 L205.8,419.0 L206.3,418.0 L206.9,413.6 L207.4,405.7 L207.9,408.5 L208.4,404.7 L208.9,403.2 L209.5,398.6 L210.0,396.0 L210.5,396.3 L211.0,399.0 L211.5,403.3 L212.0,404.2 L212.5,406.3 L213.0,411.2 L213.5,413.5 L214.0,417.8 L214.5,417.8 L215.0,420.0 L215.5,418.4 L216.0,418.0 L216.5,415.9 L217.0,415.8 L217.5,409.0 L218.1,406.3 L218.6,404.1 L219.1,410.5 L219.6,406.0 L220.1,403.8 L220.6,398.8 L221.1,404.8 L221.7,403.2 L222.2,396.1 L222.8,395.3 L223.3,403.0 L223.9,393.3 L224.5,385.0 L225.0,381.7 L225.5,367.5 L226.0,367.2 L226.5,361.2 L227.0,358.0 L227.5,353.5 L228.0,346.1 L228.6,341.0 L229.1,337.0 L229.6,329.0 L230.1,325.7 L230.5,319.3 L231.0,310.5 L231.5,317.9 L232.0,315.1 L232.6,316.8 L233.1,322.0 L233.6,326.0 L234.1,322.0 L234.6,326.5 L235.0,329.5 L235.5,327.4 L236.1,323.1 L236.6,321.7 L237.1,313.7 L237.7,310.0 L238.3,306.1 L238.8,298.7 L239.4,298.9 L240.0,294.0 L240.5,295.3 L241.0,290.1 L241.5,290.0 L242.0,295.0 L242.5,288.4 L243.0,286.2 L243.4,282.0 L243.9,275.4 L244.4,272.0 L244.9,282.3 L245.4,277.4 L245.8,277.7 L246.3,277.7 L246.8,273.3 L247.4,269.4 L247.9,262.0 L248.4,253.5 L248.9,260.8 L249.5,277.3 L250.0,280.0 L250.5,280.3 L251.1,282.4 L251.6,284.7 L252.2,287.8 L252.7,288.8 L253.3,289.3 L253.8,290.0 L254.3,298.8 L254.9,296.0 L255.4,307.7 L256.0,299.1 L256.5,298.0 L257.0,301.8 L257.6,300.8 L258.1,298.8 L258.6,290.0 L259.1,294.7 L259.6,298.2 L260.0,300.6 L260.5,302.8 L261.0,307.0 L261.5,311.1 L262.0,315.1 L262.5,315.8 L263.0,311.2 L263.5,317.7 L264.0,320.7 L264.6,338.0 L265.1,340.9 L265.7,322.3 L266.2,320.7 L266.7,328.7 L267.2,322.1 L267.6,325.6 L268.1,324.5 L268.6,328.8 L269.1,333.7 L269.7,342.2 L270.2,334.2 L270.8,341.9 L271.3,347.6 L271.8,351.7 L272.4,355.2 L272.9,356.9 L273.5,359.0 L274.0,362.4 L274.5,351.3 L274.9,351.0 L275.4,342.6 L275.9,334.0 L276.4,341.5 L276.9,343.6 L277.4,355.1 L277.9,351.3 L278.4,355.4 L278.9,358.8 L279.4,361.0 L279.9,356.6 L280.4,350.3 L280.9,347.9 L281.4,344.7 L281.9,344.2 L282.4,341.7 L282.9,339.7 L283.4,334.0 L283.9,333.5 L284.4,326.3 L285.0,328.0 L285.5,332.3 L286.0,329.0 L286.5,329.6 L287.0,342.7 L287.5,344.4 L288.0,346.2 L288.5,344.1 L289.0,348.5 L289.5,345.2 L290.0,350.0 L290.5,347.3 L291.0,347.8 L291.5,343.0 L292.1,343.0 L292.6,336.8 L293.1,334.8 L293.6,334.0 L294.2,335.0 L294.7,339.2 L295.2,338.2 L295.8,331.8 L296.3,337.1 L296.9,338.0 L297.4,335.4 L297.9,334.0 L298.4,335.2 L298.9,339.3 L299.4,336.4 L299.9,338.6 L300.4,342.9 L300.9,345.0 L301.4,344.4 L302.0,347.1 L302.5,349.1 L303.1,350.2 L303.6,355.7 L304.1,354.5 L304.7,357.5 L305.2,361.3 L305.8,367.9 L306.3,374.5 L306.8,376.9 L307.4,367.5 L307.9,364.4 L308.5,356.4 L309.0,353.0 L309.5,354.0 L310.0,350.1 L310.6,349.3 L311.1,344.4 L311.6,337.0 L312.1,334.9 L312.6,332.3 L313.0,331.5 L313.5,330.2 L314.0,327.4 L314.5,327.5 L315.0,327.7 L315.5,329.9 L316.0,330.4 L316.5,330.6 L317.0,328.8 L317.5,327.9 L318.1,321.4 L318.6,312.8 L319.2,304.1 L319.7,300.5 L320.1,301.2 L320.6,292.9 L321.0,298.0 L321.5,305.5 L322.0,310.6 L322.5,314.3 L323.0,326.0 L323.5,328.5 L324.0,333.1 L324.5,330.1 L325.0,328.8 L325.5,331.8 L326.0,336.6 L326.5,335.7 L327.1,337.3 L327.6,346.7 L328.1,348.7 L328.6,357.0 L329.1,353.5 L329.6,342.2 L330.0,335.7 L330.5,328.8 L331.0,318.8 L331.4,317.3 L331.9,312.0 L332.4,308.6 L332.9,310.4 L333.4,311.0 L333.9,310.7 L334.4,306.1 L334.9,310.8 L335.4,308.2 L335.9,311.0 L336.4,317.2 L337.0,320.7 L337.5,313.6 L338.0,310.7 L338.5,305.5 L339.0,300.6 L339.5,297.7 L340.0,295.0 L340.5,292.6 L341.0,297.2 L341.5,297.9 L342.0,297.9 L342.5,290.9 L343.0,288.2 L343.5,286.3 L344.0,288.4 L344.5,287.5 L345.0,286.9 L345.6,281.0 L346.1,276.7 L346.6,272.0 L347.1,276.1 L347.6,280.3 L348.0,289.1 L348.5,301.7 L349.0,302.0 L349.5,303.7 L350.0,300.0 L350.5,296.8 L351.0,301.5 L351.5,293.2 L352.0,297.8 L352.5,294.9 L353.0,296.3 L353.5,289.9 L354.0,285.9 L354.5,277.1 L355.0,273.8 L355.5,273.6 L356.0,277.3 L356.4,277.1 L356.9,284.1 L357.4,288.4 L357.9,287.8 L358.4,281.7 L359.0,285.0 L359.5,279.9 L360.0,272.0 L360.6,275.6 L361.1,276.9 L361.7,282.4 L362.2,280.3 L362.8,284.4 L363.3,289.1 L363.9,292.2 L364.4,296.0 L365.0,295.4 L365.5,303.0 L366.0,300.3 L366.5,296.9 L367.0,294.6 L367.5,292.6 L368.0,291.0 L368.6,290.7 L369.1,289.5 L369.7,288.9 L370.2,286.1 L370.8,279.0 L371.3,278.2 L371.8,278.5 L372.3,278.1 L372.9,279.5 L373.4,284.8 L373.9,286.3 L374.4,287.2 L374.9,288.4 L375.4,289.3 L375.9,288.1 L376.4,292.8 L376.9,293.2 L377.4,294.1 L378.0,298.1 L378.5,294.1 L379.0,293.6 L379.5,299.0 L380.0,297.8 L380.5,302.3 L381.1,305.4 L381.6,307.0 L382.1,306.9 L382.7,303.5 L383.2,291.7 L383.8,299.4 L384.3,296.5 L384.8,297.4 L385.4,304.4 L385.9,303.4 L386.5,307.2 L387.0,306.0 L387.5,302.1 L388.0,298.3 L388.5,300.4 L389.0,302.8 L389.5,296.9 L390.0,295.3 L390.5,290.4 L391.0,291.0 L391.5,289.5 L392.0,286.7 L392.5,289.7 L393.0,285.6 L393.5,282.8 L394.0,279.2 L394.5,275.9 L395.0,275.0 L395.5,272.2 L396.1,273.9 L396.6,272.2 L397.2,271.5 L397.7,268.0 L398.3,262.1 L398.9,259.2 L399.4,256.0 L400.0,251.0 L400.5,250.7 L401.0,243.6 L401.5,246.8 L402.0,241.0 L402.5,241.5 L403.0,241.0 L403.5,241.3 L404.0,240.7 L404.5,236.9 L405.0,232.7 L405.5,237.0 L406.0,236.7 L406.5,245.6 L406.9,250.4 L407.4,247.0 L407.9,244.9 L408.4,247.8 L408.9,255.6 L409.4,254.6 L409.9,261.9 L410.3,265.0 L410.8,263.1 L411.3,269.9 L411.8,274.7 L412.3,275.8 L412.9,279.2 L413.4,282.4 L413.9,280.4 L414.5,284.6 L415.0,288.0 L415.5,287.3 L416.0,286.7 L416.5,284.4 L417.0,283.9 L417.5,272.1 L418.0,281.1 L418.5,278.0 L419.1,284.5 L419.6,279.1 L420.1,288.3 L420.7,289.6 L421.2,292.6 L421.8,293.0 L422.3,294.6 L422.8,288.0 L423.4,290.8 L423.9,281.5 L424.4,287.7 L424.9,288.2 L425.4,282.4 L426.0,281.8 L426.5,285.2 L427.0,284.8 L427.6,286.4 L428.1,278.4 L428.6,278.2 L429.2,276.2 L429.8,274.8 L430.3,271.0 L430.9,269.0 L431.4,268.1 L432.0,264.3 L432.5,266.2 L433.1,264.1 L433.6,261.0 L434.2,264.5 L434.7,265.3 L435.3,268.0 L435.8,270.6 L436.3,269.0 L436.8,263.2 L437.2,261.1 L437.7,254.2 L438.2,254.3 L438.7,247.8 L439.2,247.7 L439.8,248.0 L440.4,246.2 L440.9,248.1 L441.4,242.7 L442.0,241.0 L442.5,240.9 L443.0,239.8 L443.5,238.1 L443.9,238.9 L444.4,243.3 L444.9,235.4 L445.4,237.7 L445.9,234.6 L446.5,226.6 L447.0,224.0 L447.5,223.4 L448.0,229.5 L448.5,235.3 L448.9,244.4 L449.4,250.0 L449.9,257.8 L450.4,258.0 L450.9,254.2 L451.4,253.0 L451.9,243.1 L452.3,246.4 L452.8,234.3 L453.3,230.9 L453.8,227.6 L454.3,222.9 L454.9,214.8 L455.4,208.9 L455.9,207.3 L456.5,200.0 L457.0,190.7 L457.5,191.8 L458.0,181.6 L458.5,178.0 L459.0,176.7 L459.5,178.4 L460.0,172.6 L460.5,173.9 L461.0,172.5 L461.5,170.4 L462.0,163.6 L462.4,160.2 L462.9,163.9 L463.4,164.6 L463.9,160.4 L464.4,160.5 L464.9,159.9 L465.5,158.5 L466.0,154.1 L466.5,152.0 L467.0,151.2 L467.5,155.1 L468.0,157.0 L468.5,161.9 L469.0,165.5 L469.6,153.4 L470.1,154.9 L470.6,161.5 L471.2,154.8 L471.8,144.4 L472.3,150.0 L472.9,140.4 L473.5,137.6 L474.0,128.0 L474.6,126.8 L475.1,128.1 L475.6,131.2 L476.1,131.0 L476.5,136.3 L477.0,137.3 L477.5,144.4 L478.0,142.0 L478.5,141.2 L479.1,138.3 L479.6,135.2 L480.2,136.8 L480.7,135.0 L481.2,134.5 L481.8,139.2 L482.3,142.2 L482.9,148.1 L483.4,153.7 L484.0,158.4 L484.5,169.8 L485.1,173.7 L485.7,180.6 L486.2,183.3 L486.8,185.9 L487.4,191.0 L487.9,192.0 L488.4,197.1 L489.0,197.4 L489.5,199.9 L490.0,203.6 L490.5,209.6 L490.9,216.2 L491.4,216.4 L491.9,227.7 L492.4,234.4 L492.9,232.3 L493.4,227.2 L494.0,212.7 L494.5,212.6 L495.0,207.5 L495.5,199.5 L496.0,198.8 L496.5,190.8 L497.0,185.6 L497.5,182.0 L498.1,186.4 L498.6,189.6 L499.1,188.5 L499.7,191.8 L500.2,193.7 L500.8,194.0 L501.4,200.4 L501.9,208.2 L502.5,214.0 L503.0,214.2 L503.5,224.3 L504.0,218.9 L504.4,219.6 L504.9,221.9 L505.4,222.3 L505.9,227.6 L506.4,230.6 L506.9,229.4 L507.4,234.5 L508.0,239.9 L508.5,238.0 L509.0,241.0 L509.5,241.4 L510.0,248.9 L510.5,249.9 L511.0,248.7 L511.5,251.0 L512.0,255.7 L512.5,258.7 L513.0,261.5 L513.5,263.5 L514.0,263.0 L514.5,263.0 L515.0,257.9 L515.5,258.9 L516.0,261.3 L516.5,266.8 L517.0,266.8 L517.5,270.6 L518.0,273.0 L518.5,266.9 L519.0,264.7 L519.5,254.7 L520.0,252.0 L520.5,244.6 L521.0,234.0 L521.5,234.5 L522.0,232.9 L522.5,230.6 L522.9,238.6 L523.4,237.4 L523.9,242.7 L524.4,244.5 L525.0,247.0 L525.5,247.5 L526.0,248.0 L526.6,251.6 L527.2,253.3 L527.7,258.0 L528.2,261.8 L528.8,251.7 L529.4,248.7 L529.9,250.2 L530.5,249.2 L531.0,244.5 L531.5,237.5 L532.0,237.7 L532.4,231.0 L532.9,226.0 L533.4,222.6 L533.9,218.9 L534.4,223.4 L535.0,221.9 L535.5,220.6 L536.0,217.6 L536.5,220.1 L537.0,221.2 L537.5,224.5 L538.0,226.5 L538.5,232.1 L539.0,234.8 L539.5,241.0 L540.0,245.2 L540.5,242.9 L541.0,243.2 L541.4,244.8 L541.9,245.7 L542.4,247.2 L542.9,249.5 L543.4,260.6 L544.0,266.3 L544.5,274.7 L545.0,270.4 L545.5,269.6 L546.0,266.4 L546.4,262.9 L546.9,259.0 L547.4,255.3 L547.9,254.5 L548.4,254.1 L548.9,250.9 L549.4,253.3 L549.9,250.5 L550.5,246.3 L551.0,251.7 L551.5,248.8 L552.0,245.2 L552.5,247.3 L553.0,244.5 L553.5,243.9 L554.0,232.5 L554.5,224.8 L555.0,219.0 L555.5,220.6 L556.0,219.1 L556.5,223.5 L557.0,217.7 L557.5,225.2 L558.0,227.6 L558.5,224.2 L559.1,218.2 L559.6,215.0 L560.2,220.5 L560.7,216.0 L561.2,220.5 L561.8,226.4 L562.4,229.7 L562.9,232.8 L563.5,239.4 L564.0,241.0 L564.5,245.0 L565.0,258.0 L565.4,254.7 L565.9,254.9 L566.4,258.0 L566.9,260.2 L567.5,270.1 L568.0,274.7 L568.5,271.6 L569.0,272.2 L569.5,266.9 L569.9,267.1 L570.4,262.6 L570.9,256.2 L571.4,251.0 L571.9,248.8 L572.4,251.5 L572.9,257.7 L573.3,260.0 L573.8,261.8 L574.3,269.4 L574.8,268.0 L575.3,264.3 L575.9,262.3 L576.4,257.6 L576.9,253.1 L577.5,248.8 L578.0,251.0 L578.5,256.0 L579.0,256.9 L579.5,258.7 L580.0,266.2 L580.5,270.3 L581.0,273.7 L581.5,278.0 L582.0,288.7 L582.5,296.7 L583.0,293.8 L583.5,300.0 L584.0,294.0 L584.5,286.7 L585.0,281.5 L585.6,280.3 L586.1,271.1 L586.6,268.0 L587.1,264.7 L587.6,265.7 L588.1,262.4 L588.5,263.2 L589.0,264.2 L589.5,259.2 L590.0,263.0 L590.5,260.6 L591.1,257.8 L591.6,255.6 L592.2,249.4 L592.8,248.4 L593.3,247.8 L593.8,250.1 L594.4,249.5 L595.0,247.2 L595.5,244.6 L596.0,241.4 L596.6,237.7 L597.1,237.1 L597.6,232.0 L598.1,228.2 L598.5,230.2 L599.0,226.7 L599.5,221.6 L600.0,219.0 L600.5,216.1 L601.0,207.2 L601.5,211.6 L601.9,209.4 L602.4,205.4 L602.9,206.4 L603.4,207.5 L604.0,204.1 L604.5,198.8 L605.1,196.5 L605.7,192.0 L606.2,194.3 L606.8,196.7 L607.4,195.3 L607.9,198.6 L608.5,199.0 L609.0,199.0 L609.5,195.1 L610.0,188.7 L610.5,187.3 L611.0,180.9 L611.5,176.1 L612.0,172.0 L612.5,172.5 L613.0,169.9 L613.5,167.5 L614.0,165.5 L614.5,161.1 L615.0,160.4 L615.5,158.3 L616.0,155.7 L616.5,153.7 L617.0,152.1 L617.5,146.3 L618.0,145.7 L618.5,143.6 L619.0,140.9 L619.5,138.7 L620.0,132.9 L620.5,130.8 L621.0,130.2 L621.5,126.0 L622.0,126.8 L622.5,128.2 L623.0,123.4 L623.5,122.9 L624.1,124.5 L624.6,124.6 L625.1,125.3 L625.6,127.3 L626.2,128.9 L626.7,131.5 L627.2,125.5 L627.7,127.1 L628.2,123.1 L628.8,123.9 L629.3,118.1 L629.8,114.8 L630.3,117.3 L630.8,114.0 L631.3,115.6 L631.9,129.3 L632.4,139.3 L633.0,141.6 L633.5,147.6 L634.0,152.1 L634.5,155.8 L635.0,156.4 L635.5,161.8 L636.0,163.8 L636.5,168.1 L637.0,165.1 L637.5,164.6 L638.0,172.4 L638.5,176.2 L639.0,170.5 L639.5,177.8 L640.0,178.0 L640.5,180.6 L641.0,176.8 L641.5,176.7 L642.0,183.6 L642.5,183.7 L643.0,194.0 L643.5,187.1 L644.0,189.9 L644.5,189.0 L645.0,192.5 L645.5,195.1 L646.0,203.0 L646.6,197.8 L647.3,195.0 L647.9,213.7 L648.5,215.0 L649.0,206.7 L649.5,204.4 L650.0,196.0 L650.6,189.4 L651.2,184.4 L651.8,181.0 L652.3,185.5 L652.8,190.6 L653.3,197.6 L653.8,205.0 L654.3,194.2 L654.9,178.7 L655.5,175.5 L656.0,166.0 L656.6,156.6 L657.1,149.1 L657.7,141.0 L658.2,150.0 L658.7,154.9 L659.1,168.8 L659.6,165.0 L660.1,162.4 L660.6,165.8 L661.0,159.9 L661.5,157.0 L662.0,157.0 L662.5,154.7 L663.0,151.0 L663.4,155.7 L663.9,152.7 L664.4,149.0 L664.9,150.1 L665.4,145.7 L666.0,145.5 L666.5,143.3 L667.0,141.0 L667.6,138.1 L668.1,136.1 L668.7,138.0 L669.2,134.2 L669.8,134.0 L670.4,134.5 L670.9,142.3 L671.5,143.0 L672.1,138.5 L672.6,140.7 L673.2,130.4 L673.8,130.0 L674.3,127.4 L674.9,120.1 L675.5,119.0 L676.0,118.0 L676.5,119.2 L677.0,112.7 L677.5,111.9 L678.0,101.0 L678.5,105.0 L679.0,99.0 L679.6,106.8 L680.1,109.6 L680.7,108.5 L681.3,115.3 L681.8,111.0 L682.4,100.8 L682.9,102.6 L683.5,97.8 L684.0,95.0 L684.5,95.2 L685.0,93.7 L685.5,94.2 L686.0,95.0 L686.5,97.4 L687.0,92.5 L687.5,96.4 L688.0,101.2 L688.5,100.5 L689.0,104.9 L689.5,106.8 L690.0,110.0 L690.5,115.1 L691.0,129.2 L691.6,140.2 L692.1,144.8 L692.6,158.4 L693.1,157.2 L693.7,159.0 L694.2,147.9 L694.8,145.6 L695.3,139.5 L695.8,136.3 L696.4,130.5 L696.9,127.8 L697.5,121.2 L698.0,120.7 L698.5,112.7 L699.0,101.3 L699.5,95.2 L700.0,88.4 L700.5,90.0 L701.0,91.9 L701.5,90.7 L702.0,92.5 L702.5,90.9 L703.1,85.3 L703.6,80.3 L704.2,72.8 L704.7,67.0 L705.2,61.6 L705.7,60.2 L706.1,56.7 L706.6,46.7 L707.1,51.4 L707.7,61.7 L708.2,66.9 L708.8,77.7 L709.3,74.4 L709.9,72.8 L710.4,70.5 L711.0,67.5 L711.5,61.5 L712.0,60.0 L712.5,61.8 L713.0,67.6 L713.5,74.4 L714.0,75.0 L714.6,77.2 L715.1,72.1 L715.7,70.2 L716.3,69.6 L716.9,79.4 L717.4,88.9 L718.0,93.8 L718.5,93.2 L719.0,99.8 L719.5,107.0 L720.0,111.0 L720.6,105.8 L721.1,100.9 L721.7,95.0 L722.2,92.8 L722.8,89.8 L723.3,89.1 L723.9,87.6 L724.4,85.4 L725.0,80.1 L725.5,80.0 L726.0,82.7 L726.5,90.7 L727.0,94.8 L727.5,104.9 L728.0,111.0 L728.5,109.7 L729.0,106.5 L729.5,102.0 L730.1,100.8 L730.6,88.8 L731.1,85.8 L731.6,83.0 L732.1,86.8 L732.5,97.8 L733.0,96.6 L733.5,100.5 L734.0,98.9 L734.6,97.0 L735.2,96.0 L735.7,92.5 L736.2,96.3 L736.8,102.3 L737.3,104.6 L737.5,287.7 L739.5,200.0 L741.0,175.0 L742.4,163.8 L742.9,161.5 L743.4,157.7 L744.0,152.2 L744.5,149.7 L745.0,147.6 L745.5,137.7 L745.9,121.9 L746.4,106.0 L746.9,111.6 L747.4,117.3 L748.0,120.6 L748.5,129.8 L749.0,137.0 L749.5,143.3 L750.0,152.3 L750.5,161.3 L751.0,166.5 L751.5,177.0 L752.0,184.6 L752.5,187.4 L753.0,193.6 L753.5,198.6 L754.0,202.0 L754.5,206.3 L755.0,213.8 L757.0,291.0 L757.5,295.0 L758.1,295.3 L758.6,300.6 L759.2,294.4 L759.7,297.8 L760.4,288.6 L761.0,287.7 L761.6,303.7 L762.1,318.2 L762.7,328.0 L763.4,334.8 L764.0,353.0 L764.5,331.4 L764.9,316.5 L765.4,301.0 L767.0,229.0 L767.5,239.4 L768.0,252.5 L768.4,266.2 L768.9,277.2 L769.4,284.0 L769.9,267.2 L770.4,250.8 L770.9,266.2 L771.5,274.8 L772.0,289.0 L772.6,284.8 L773.2,281.2 L773.8,277.6 L774.3,276.2 L774.9,274.0 L775.4,275.2 L775.9,275.1 L776.5,276.9 L777.0,271.0 L777.6,266.6 L778.1,264.0 L778.7,269.5 L779.2,263.8 L779.8,262.5 L780.3,265.8 L780.9,266.4 L781.5,274.1 L782.0,277.6 L782.5,272.3 L783.0,272.9 L783.4,269.9 L783.9,271.0 L786.0,335.0 L786.5,339.6 L787.1,343.2 L787.6,346.5 L788.1,325.5 L788.5,305.8 L789.0,287.7 L789.5,292.8 L790.1,295.2 L790.6,301.0 L791.1,286.0 L791.6,276.0 L792.1,277.8 L792.6,278.0 L793.1,281.3 L793.6,282.9 L794.1,284.3 L794.6,287.7 L795.1,284.0 L795.6,283.7 L796.0,281.2 L796.5,278.9 L797.0,274.0 L797.5,273.6 L798.0,270.4 L798.5,269.1 L799.0,271.1 L799.5,259.9 L800.0,257.5 L800.6,248.3 L801.1,233.2 L801.7,220.5 L802.3,215.8 L802.9,213.6 L803.4,205.3 L804.0,198.7 L804.5,197.6 L805.0,207.3 L805.5,213.0 L806.0,220.5 L806.5,223.9 L807.0,232.8 L807.5,235.5 L808.0,244.0 L808.6,252.4 L809.1,252.8 L809.7,257.2 L810.2,263.5 L810.8,267.5 L811.3,272.8 L811.9,278.4 L812.4,284.4 L812.9,291.4 L813.4,297.6 L813.8,305.0 L814.3,307.4 L814.8,313.0 L815.3,302.3 L815.9,293.4 L816.4,281.9 L817.0,266.8 L817.5,267.5 L818.0,260.5 L818.5,250.3 L819.0,247.6 L819.5,237.0 L820.0,230.6 L820.5,228.9 L821.0,219.3 L821.5,212.0 L822.0,211.2 L822.5,207.0 L823.0,199.6 L823.4,185.8 L823.9,173.4 L824.4,182.0 L824.9,192.5 L825.4,203.7 L825.9,215.5 L826.4,225.0 L827.0,230.9 L827.5,243.9 L828.0,250.8 L828.5,250.2 L829.0,240.8 L829.5,235.6 L830.0,233.6 L830.5,227.3 L831.0,222.0 L831.5,225.8 L832.0,225.3 L832.6,228.9 L833.1,236.3 L833.6,240.7 L834.1,245.1 L834.6,246.5 L835.0,251.0 L835.5,253.5 L836.0,257.5 L836.6,251.3 L837.1,248.4 L837.7,243.8 L838.3,240.7 L838.9,248.4 L839.4,261.9 L840.0,262.5 L840.5,255.2 L841.1,257.4 L841.6,250.9 L842.2,244.0 L842.7,239.0 L843.3,243.8 L843.9,243.9 L844.4,248.6 L845.0,257.5 L845.5,254.9 L846.1,254.0 L846.6,255.6 L847.2,261.8 L847.7,264.0 L848.2,270.4 L848.8,276.9 L849.3,275.6 L849.9,275.3 L850.4,277.6 L850.9,281.1 L851.4,282.3 L851.9,285.4 L852.4,284.2 L852.9,291.2 L853.4,289.0 L853.9,286.2 L854.4,285.3 L855.0,279.5 L855.5,270.4 L856.0,267.5 L856.5,267.1 L857.0,265.2 L857.5,261.0 L858.0,266.2 L858.5,251.0 L859.0,253.6 L859.5,250.8 L860.0,247.0 L860.5,235.6 L861.0,229.0 L861.5,231.2 L862.0,234.4 L862.5,232.7 L862.9,235.8 L863.4,240.1 L863.9,244.0 L864.4,236.6 L865.0,235.1 L865.5,226.7 L866.1,221.3 L866.6,220.5 L867.1,221.4 L867.6,229.1 L868.1,235.7 L868.6,237.3 L869.1,227.8 L869.6,219.1 L870.1,213.0 L870.6,203.7 L871.1,210.3 L871.6,198.2 L872.0,200.4 L872.5,196.1 L873.0,193.6 L873.5,183.7 L874.1,176.4 L874.6,176.8 L875.1,173.6 L875.5,174.7 L876.0,167.4 L876.5,167.5 L877.0,171.9 L877.5,176.0 L878.0,183.5 L878.5,184.7 L879.1,186.4 L879.6,191.3 L880.2,190.0 L880.7,190.0 L881.3,184.0 L881.9,186.4 L882.4,182.7 L883.0,183.5 L883.5,185.5 L884.0,184.9 L884.4,192.7 L884.9,194.1 L885.4,193.6 L885.9,196.1 L886.4,203.3 L887.0,209.8 L887.5,213.9 L888.0,220.5 L888.5,217.3 L889.0,220.0 L889.5,220.8 L889.9,219.9 L890.4,221.5 L890.9,221.9 L891.4,224.0 L891.9,227.7 L892.4,233.3 L893.0,234.4 L893.5,237.5 L894.0,240.7 L894.5,234.3 L895.0,235.5 L895.5,229.0 L896.0,223.5 L896.5,220.5 L897.0,233.2 L897.5,241.3 L898.0,244.4 L898.5,256.8 L899.0,269.0 L899.5,258.7 L900.0,248.2 L900.5,243.6 L901.0,236.1 L901.5,222.0 L902.0,219.0 L902.5,229.0 L903.0,232.7 L903.5,242.1 L904.0,254.9 L904.5,261.4 L905.0,261.1 L905.5,255.6 L906.0,253.3 L906.6,252.3 L907.1,257.3 L907.6,250.8 L908.1,251.3 L908.6,251.0 L909.1,238.9 L909.6,240.3 L910.1,233.4 L910.6,234.0 L911.1,233.5 L911.7,229.1 L912.2,234.7 L912.8,228.5 L913.4,228.2 L913.9,228.1 L914.5,226.8 L915.0,229.6 L915.5,228.9 L916.0,230.9 L916.5,232.2 L917.0,226.9 L917.5,228.5 L918.0,228.0 L918.5,232.6 L919.0,237.9 L919.5,230.1 L920.0,234.9 L920.5,235.9 L921.0,238.7 L921.5,239.6 L922.0,246.0 L922.6,248.0 L923.1,246.3 L923.6,245.5 L924.1,248.8 L924.7,245.9 L925.2,252.3 L925.7,250.8 L926.2,237.9 L926.8,240.2 L927.3,232.6 L927.8,225.0 L928.3,228.5 L928.8,233.5 L929.3,238.1 L929.8,244.9 L930.3,244.7 L930.8,247.6 L931.3,244.5 L931.8,245.7 L932.3,242.2 L932.8,238.7 L933.3,235.7 L933.8,239.9 L934.3,240.5 L934.8,239.3 L935.3,243.5 L935.8,243.5 L936.3,247.8 L936.8,251.6 L937.3,259.4 L937.8,257.2 L938.3,253.8 L938.8,253.6 L939.3,253.8 L939.8,253.4 L940.4,250.3 L940.9,259.2 L941.4,258.0 L941.9,261.1 L942.5,262.2 L943.0,266.0 L944.5,194.8 L945.0,202.9 L945.5,207.3 L946.0,208.6 L946.5,213.3 L947.0,216.0 L947.5,223.5 L947.9,231.2 L948.4,238.7 L948.9,235.4 L949.4,239.6 L950.0,234.7 L950.5,232.6 L951.0,234.8 L951.5,232.6 L952.0,234.8 L952.5,235.8 L953.0,236.1 L953.5,235.7 L954.0,240.8 L954.5,241.7 L955.0,247.2 L955.5,251.2 L956.0,253.8 L956.5,261.4 L957.0,266.2 L957.5,264.4 L958.0,259.5 L958.5,256.7 L959.0,249.1 L959.5,243.3 L960.0,238.7 L960.5,245.9 L961.0,247.6 L961.5,247.1 L962.1,244.3 L962.6,240.1 L963.1,243.3 L963.6,240.2 L964.1,240.2 L964.6,236.9 L965.0,244.8 L965.5,244.8 L966.0,250.8 L966.5,255.8 L967.0,255.6 L967.5,255.5 L968.0,260.0 L968.5,266.9 L969.1,282.9 L969.6,290.0 L971.7,228.0 L972.2,233.8 L972.7,244.0 L973.2,253.8 L973.7,254.0 L974.2,260.4 L974.7,263.9 L975.2,267.5 L975.7,272.0 L976.3,275.4 L976.9,281.7 L977.4,282.0 L978.0,284.0 L978.5,285.3 L979.1,284.8 L979.7,276.3 L980.2,287.0 L980.7,293.7 L981.2,299.4 L981.7,309.8 L982.3,302.0 L982.9,297.5 L983.4,289.2 L984.0,285.6 L984.6,289.0 L985.1,287.3 L985.7,296.0 L986.3,305.0 L986.8,311.0 L987.3,310.0 L987.9,312.4 L988.4,314.0 L988.9,318.7 L989.5,327.1 L990.0,329.5 L990.6,324.6 L991.1,320.0 L991.7,317.0 L992.3,311.0 L992.8,320.5 L993.3,311.5 L993.8,316.0 L994.3,321.0 L994.8,316.6 L995.3,319.0 L995.8,314.0 L996.4,303.1 L997.0,292.5 L997.5,281.0 L998.0,284.0 L998.5,284.5 L999.0,278.6 L999.5,290.3 L1000.0,290.0 L1000.6,293.5 L1001.1,303.5 L1001.7,307.2 L1002.3,311.0 L1002.8,311.1 L1003.3,316.8 L1003.9,321.2 L1004.4,317.4 L1004.8,324.8 L1005.3,329.5 L1005.8,333.8 L1006.3,332.5 L1006.8,330.0 L1007.4,330.4 L1007.9,327.2 L1008.4,325.0 L1008.9,317.3 L1009.5,311.2 L1010.0,305.3 L1010.5,303.8 L1011.0,311.5 L1011.5,315.7 L1012.1,320.7 L1012.6,317.4 L1013.1,311.3 L1013.6,305.3 L1014.0,300.2 L1014.5,289.6 L1015.0,282.6 L1015.5,275.9 L1016.0,283.1 L1016.4,284.4 L1016.9,287.1 L1017.4,293.0 L1018.0,296.8 L1018.5,301.5 L1019.0,300.3 L1019.6,300.7 L1020.1,295.8 L1020.6,295.6 L1021.1,295.5 L1021.6,291.3 L1022.1,290.6 L1022.6,290.0 L1023.1,285.3 L1023.7,277.8 L1024.2,271.2 L1024.7,273.5 L1025.3,273.4 L1025.8,281.0 L1026.4,282.7 L1027.0,287.0 L1027.5,294.7 L1028.0,297.2 L1028.5,300.4 L1029.0,318.9 L1029.5,311.2 L1030.0,309.8 L1030.5,310.0 L1031.0,300.0 L1031.6,293.3 L1032.1,284.6 L1032.6,281.0 L1033.1,283.9 L1033.7,289.3 L1034.2,294.1 L1034.7,296.0 L1035.2,296.6 L1035.7,292.7 L1036.2,284.1 L1036.7,287.0 L1037.2,283.7 L1037.7,281.0 L1038.2,279.2 L1038.7,284.8 L1039.2,286.2 L1039.7,278.8 L1040.2,280.4 L1040.7,278.0 L1041.2,277.8 L1041.7,277.7 L1042.2,281.2 L1042.8,274.2 L1043.3,270.5 L1043.8,266.0 L1044.3,266.5 L1044.8,264.9 L1045.3,261.2 L1045.8,258.6 L1046.3,255.4 L1046.8,253.8 L1047.3,250.9 L1047.8,253.2 L1048.3,248.1 L1048.8,248.1 L1049.3,246.5 L1049.8,247.8 L1050.3,249.3 L1050.8,248.2 L1051.3,250.8 L1051.8,245.6 L1052.3,245.3 L1052.8,241.0 L1053.3,231.4 L1053.8,231.0 L1054.3,232.6 L1054.9,234.1 L1055.5,240.1 L1056.0,240.2 L1056.5,235.7 L1057.0,228.1 L1057.5,226.6 L1058.0,220.5 L1058.6,211.8 L1059.2,205.2 L1059.8,203.9 L1060.3,199.9 L1060.9,191.5 L1061.5,182.4 L1062.0,182.7 L1062.5,184.7 L1063.0,191.0 L1063.5,186.7 L1064.0,194.8 L1064.5,193.0 L1065.0,193.8 L1065.4,194.2 L1065.9,188.8 L1066.4,193.5 L1067.0,194.1 L1067.5,199.4 L1068.0,200.9 L1068.5,198.4 L1069.0,204.6 L1069.5,201.9 L1070.0,208.8 L1070.5,210.7 L1071.0,210.0 L1071.5,210.2 L1072.0,230.9 L1072.5,216.4 L1073.0,216.7 L1073.5,218.6 L1074.0,220.5 L1074.5,221.3 L1075.0,218.7 L1075.5,219.9 L1076.0,217.4 L1076.5,213.1 L1077.0,205.4 L1077.5,199.7 L1078.0,188.7 L1078.5,192.2 L1079.0,205.6 L1079.5,196.0 L1080.0,194.6 L1080.5,197.2 L1081.1,203.0 L1081.6,208.4 L1082.1,207.9 L1082.5,208.5 L1083.0,205.4 L1083.5,209.2 L1084.1,213.4 L1084.7,220.6 L1085.2,220.5 L1085.8,224.1 L1086.4,227.0 L1087.0,232.6 L1087.5,230.7 L1088.0,226.4 L1088.5,223.7 L1089.0,220.0 L1089.5,217.6 L1090.0,217.5 L1090.5,213.1 L1091.0,216.7 L1091.5,216.6 L1092.0,219.6 L1092.5,211.2 L1093.0,213.0 L1093.5,217.4 L1094.1,224.1 L1094.7,229.1 L1095.2,232.6 L1095.7,239.6 L1096.2,228.8 L1096.7,227.4 L1097.2,235.2 L1097.7,240.2 L1098.2,240.2 L1098.7,244.5 L1099.2,246.0 L1099.8,248.2 L1100.3,243.8 L1100.8,245.2 L1101.3,250.8 L1101.8,240.3 L1102.3,247.4 L1102.9,245.0 L1103.4,243.2 L1103.9,246.0 L1104.4,249.1 L1104.8,256.3 L1105.3,260.5 L1105.8,263.0 L1106.3,262.0 L1106.8,256.6 L1107.3,250.9 L1107.8,251.7 L1108.3,255.7 L1108.8,258.4 L1109.3,261.3 L1109.8,263.0 L1110.3,267.4 L1110.8,273.1 L1111.3,273.5 L1111.8,274.2 L1112.3,271.9 L1112.9,271.8 L1113.4,272.0 L1113.9,273.1 L1114.5,274.9 L1115.0,280.3 L1115.5,284.0 L1116.0,288.1 L1116.5,291.8 L1117.0,292.9 L1117.5,295.2 L1118.0,296.0 L1118.6,288.4 L1119.2,291.1 L1119.7,288.3 L1120.3,288.6 L1120.8,288.7 L1121.3,289.2 L1121.8,291.2 L1122.4,294.0 L1122.9,286.9 L1123.4,297.7 L1123.9,293.5 L1124.5,296.1 L1125.0,291.3 L1125.5,293.2 L1126.0,297.2 L1126.5,305.0 L1127.0,308.3 L1127.5,310.7 L1128.0,313.9 L1128.5,317.2 L1129.0,316.0 L1129.6,314.2 L1130.2,314.2 L1130.7,313.1 L1131.3,314.0" fill="none" stroke="#2196f3" stroke-width="2.4" stroke-linejoin="miter" stroke-miterlimit="10"/>
<path d="M0,313.9H1134" stroke="#3f8fd8" stroke-width="1.4" stroke-dasharray="1.5,1.5" fill="none"/>
<path d="M746,3.9V568" stroke="#7d808a" stroke-width="1.3" stroke-dasharray="5.4,5.95" fill="none"/>
<path d="M-1.6,105.5H1117" stroke="#7d808a" stroke-width="1.3" stroke-dasharray="5.4,5.95" fill="none"/>
<path d="M0,568.9H1196.5" stroke="#9a9da5" stroke-width="1.5" fill="none"/>
<path d="M1134.7,0V595" stroke="#5f636d" stroke-width="1.4" fill="none"/>
<path d="M1135,17.8h4.5M1135,88.0h4.5M1135,158.1h4.5M1135,228.3h4.5M1135,298.4h4.5M1135,368.6h4.5M1135,438.7h4.5M1135,508.9h4.5" stroke="#5f636d" stroke-width="1.2" fill="none"/>
<path d="M52.5,569v4M146.5,569v4M240.5,569v4M333.5,569v4M427.5,569v4M521.5,569v4M614.5,569v4M872.5,569v4M965.5,569v4M1059.5,569v4" stroke="#5f636d" stroke-width="1" fill="none" shape-rendering="crispEdges"/>
</svg>
<div class="pl" style="top:10.6px">120.500</div><div class="pl" style="top:80.8px">120.000</div><div class="pl" style="top:150.9px">119.500</div><div class="pl" style="top:221.1px">119.000</div><div class="pl" style="top:291.2px">118.500</div><div class="pl" style="top:361.4px">118.000</div><div class="pl" style="top:431.5px">117.500</div><div class="pl" style="top:501.7px">117.000</div>
<div class="tl" style="left:22.0px">13</div><div class="tl" style="left:115.8px">03:00</div><div class="tl" style="left:209.5px">06:00</div><div class="tl" style="left:303.2px">09:00</div><div class="tl" style="left:397.0px">12:00</div><div class="tl" style="left:490.8px">15:00</div><div class="tl" style="left:584.5px">18:00</div><div class="tl" style="left:841.6px">03:00</div><div class="tl" style="left:935.4px">06:00</div><div class="tl" style="left:1029.1px">09:00</div>
<div style="position:absolute;left:0;top:0;width:395px;height:17px;background:rgba(255,255,255,0.85)"></div>
<div style="position:absolute;left:30px;top:25px;width:88px;height:18px;background:rgba(255,255,255,0.7)"></div>
<div class="leg1">Euro Fx/Yen japonés</div>
<div class="lg" style="left:164px;font-size:16px;color:#8a8e99;">·</div>
<div class="lg" style="left:173px;font-size:16px;color:#131722;">1</div>
<div class="lg" style="left:185px;font-size:16px;color:#8a8e99;">·</div>
<div class="lg" style="left:194.5px;font-size:16px;color:#131722;letter-spacing:-1.6px;">FXCM</div>
<div class="lg" style="left:243.5px;font-size:12.5px;color:#2196f3;letter-spacing:-0.15px;top:1px;-webkit-text-stroke:0.25px #2196f3">119.541</div>
<div class="lg" style="left:295.5px;font-size:12.5px;color:#2196f3;letter-spacing:-0.15px;top:1px;-webkit-text-stroke:0.25px #2196f3">+0.036</div>
<div class="lg" style="left:340px;font-size:12.5px;color:#2196f3;letter-spacing:-0.15px;top:1px;-webkit-text-stroke:0.25px #2196f3">(+0.03%)</div>
<div class="btn"><svg width="19" height="21" viewBox="0 0 19 21"><path d="M5.5,8.5l4,4l4,-4" fill="none" stroke="#131722" stroke-width="1.5"/></svg></div>
<div class="leg2">Vol. 20&nbsp;&nbsp; <span style="color:#26a69a">8</span>&nbsp; <span style="color:#f7873a">64</span></div>

<div class="xl" style="left:1117px;top:96px;width:79px;height:18px;"></div>
<div class="xl" style="left:1145px;top:96px;height:18px;line-height:18px;background:none;">119.872</div>
<div style="position:absolute;left:1134px;top:96px;width:1.4px;height:18px;background:#6e7380;"></div>
<svg style="position:absolute;left:1117px;top:96px" width="24" height="18"><path d="M3,9.5h12M9,3.5v12" stroke="#fff" stroke-width="1.2" fill="none"/><path d="M18,9.5h4" stroke="#fff" stroke-width="1" fill="none"/></svg>

<div class="xl" style="left:1135px;top:304px;width:61px;height:18px;background:#2196f3;"></div>
<div class="xl" style="left:1145px;top:304px;height:18px;line-height:18px;background:none;">118.386</div>
<svg style="position:absolute;left:1135px;top:304px" width="8" height="18"><path d="M0,10.5h5" stroke="#fff" stroke-width="1" fill="none"/></svg>
<div class="xl" style="left:1153px;top:324px;width:39px;padding-left:4px;height:18px;line-height:18px;background:#2196f3;">00:44</div>

<div class="xl" style="left:691px;top:569px;width:109px;height:25px;line-height:24px;text-align:center;white-space:pre;">15 Mar '20   22:48</div>
<svg style="position:absolute;left:740px;top:569px" width="12" height="6"><path d="M6.5,0v4" stroke="#fff" stroke-width="1" fill="none"/></svg>

<div class="panel">
  <div style="position:absolute;left:12px;top:2px;width:107px;height:40px;background:linear-gradient(90deg,#fff 0,#ffebee 18px,#ffebee 100%);"></div>
  <div style="position:absolute;left:164px;top:2px;width:104px;height:40px;background:linear-gradient(90deg,#e9f3fd 0,#e9f3fd 96px,#fff 100%);"></div>
  <svg style="position:absolute;left:4px;top:14px" width="10" height="16"><g fill="#d3d6dd"><rect x="1.5" y="1.8" width="1.6" height="1.6"/><rect x="5.5" y="1.8" width="1.6" height="1.6"/><rect x="1.5" y="7.2" width="1.6" height="1.6"/><rect x="5.5" y="7.2" width="1.6" height="1.6"/><rect x="1.5" y="12.5" width="1.6" height="1.6"/><rect x="5.5" y="12.5" width="1.6" height="1.6"/></g></svg>
  <div style="position:absolute;left:23.5px;top:6.2px;font-size:11.5px;line-height:14px;color:#e8325e;letter-spacing:-0.4px;-webkit-text-stroke:0.45px #e8325e;">VENDER</div>
  <div style="position:absolute;left:23.5px;top:21px;font-size:14px;line-height:16px;color:#33363f;">118.38<span style="font-size:10px;color:#26a69a;position:relative;top:-8px;left:0.5px;">7</span></div>
  <div style="position:absolute;left:119px;top:2px;width:45px;height:40px;line-height:40px;text-align:center;font-size:14px;color:#6a6d78;">1.0</div>
  <div style="position:absolute;left:170.5px;top:6.2px;font-size:11.5px;line-height:14px;color:#2196f3;letter-spacing:-0.4px;-webkit-text-stroke:0.45px #2196f3;">COMPRAR</div>
  <div style="position:absolute;left:170.5px;top:21px;font-size:14px;line-height:16px;color:#33363f;">118.39<span style="font-size:10px;color:#26a69a;position:relative;top:-8px;left:0.5px;">7</span></div>
  <svg style="position:absolute;left:272px;top:8.5px" width="26" height="26" viewBox="0 0 26 26"><circle cx="12.8" cy="13" r="10" fill="none" stroke="#f7931a" stroke-width="1.6"/><circle cx="12.8" cy="8.3" r="1.2" fill="#f7931a"/><path d="M12.8,11.2v6.5" stroke="#f7931a" stroke-width="1.8" fill="none"/></svg>
  <div style="position:absolute;left:303px;top:2px;width:1px;height:40px;background:#eceef2;"></div>
  <div style="position:absolute;left:304px;top:21px;width:19px;height:1px;background:#eceef2;"></div>
  <svg style="position:absolute;left:304px;top:2px" width="19" height="40"><path d="M5,11h9M9.5,6.5v9M5,30h9" stroke="#33363f" stroke-width="1.4" fill="none"/></svg>
</div>

<svg style="position:absolute;left:1154px;top:572px" width="22" height="22" viewBox="-11 -11 22 22"><circle r="5.2" fill="none" stroke="#2a2e39" stroke-width="1.2"/><g stroke="#2a2e39" stroke-width="1.4"><path d="M0,-5.4V-8M0,5.4V8M-5.4,0H-8M5.4,0H8M3.8,3.8L5.7,5.7M-3.8,3.8L-5.7,5.7M3.8,-3.8L5.7,-5.7M-3.8,-3.8L-5.7,-5.7"/></g></svg>
</body></html>
